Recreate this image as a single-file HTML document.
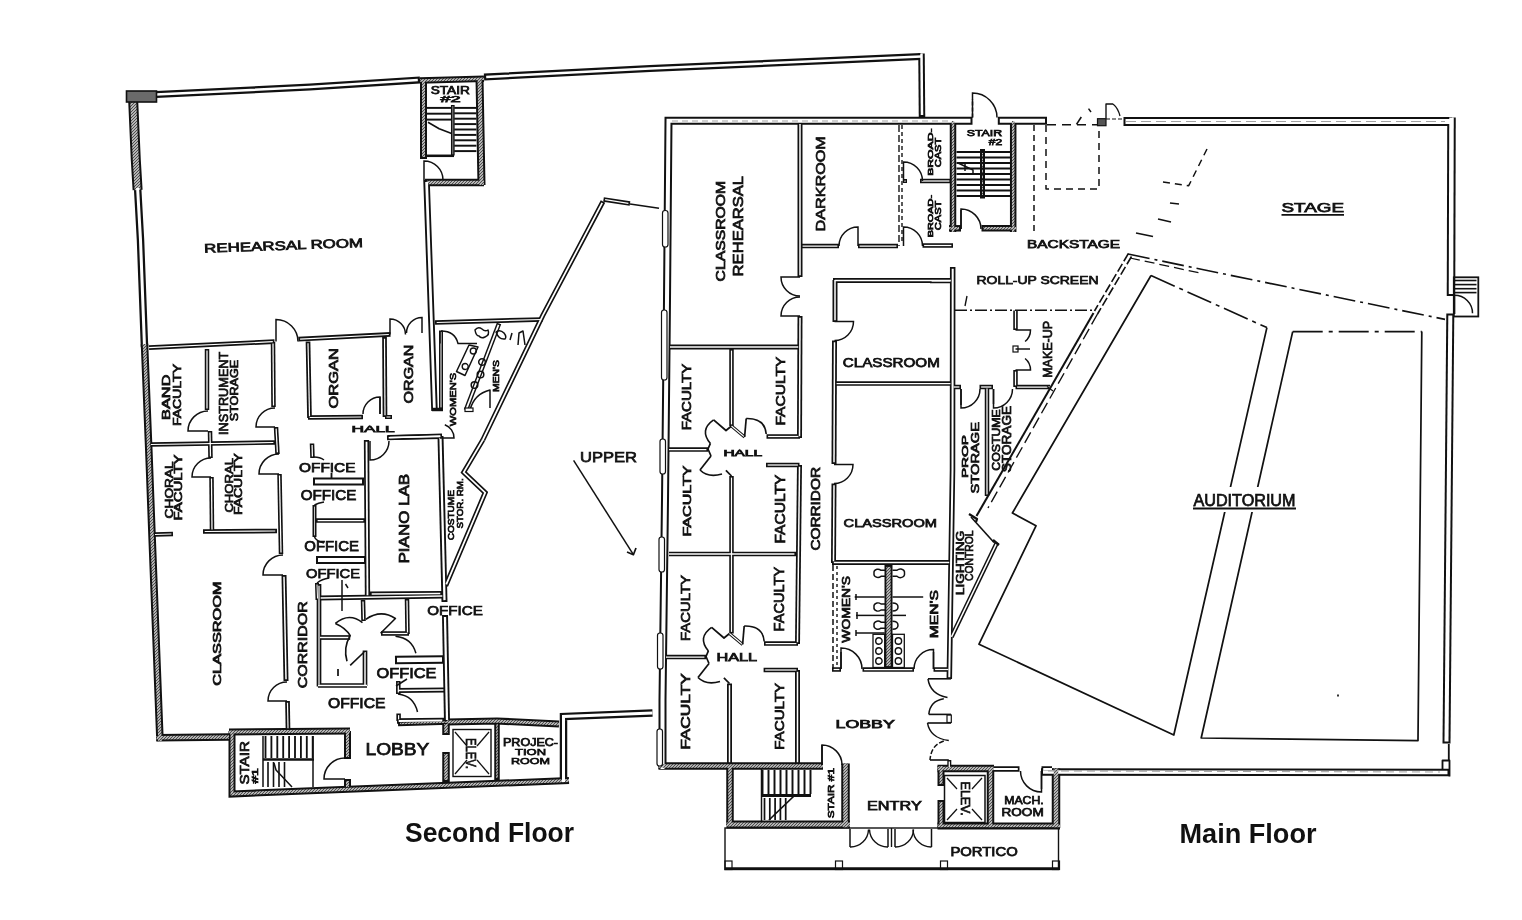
<!DOCTYPE html>
<html><head><meta charset="utf-8"><title>Floor Plans</title>
<style>html,body{margin:0;padding:0;background:#fff;width:1522px;height:920px;overflow:hidden}svg{display:block;filter:grayscale(1)}text{font-family:"Liberation Sans",sans-serif}</style>
</head><body>
<svg width="1522" height="920" viewBox="0 0 1522 920">
<defs>
<pattern id="hatch" width="3" height="3" patternUnits="userSpaceOnUse"><rect width="3" height="3" fill="#b4b4b4"/><path d="M0,3 L3,0" stroke="#333" stroke-width="0.8"/></pattern>

</defs>
<rect width="1522" height="920" fill="#fff"/>

<polyline points="156.0,94.5 310.0,87.0 420.0,80.0" fill="none" stroke="#111" stroke-width="7.0" stroke-linejoin="miter" stroke-miterlimit="10"/>
<polyline points="484.0,77.0 650.0,68.5 921.0,56.5" fill="none" stroke="#111" stroke-width="7.0" stroke-linejoin="miter" stroke-miterlimit="10"/>
<polyline points="921.5,53.5 922.0,117.0" fill="none" stroke="#111" stroke-width="6.5" stroke-linejoin="miter" stroke-miterlimit="10"/>
<polyline points="133.2,101.0 135.8,160.0 137.6,190.0" fill="none" stroke="#111" stroke-width="10.0" stroke-linejoin="miter" stroke-miterlimit="10"/>
<polyline points="137.6,188.0 140.5,240.0 142.0,280.0 144.5,347.0" fill="none" stroke="#111" stroke-width="7.5" stroke-linejoin="miter" stroke-miterlimit="10"/>
<polyline points="144.5,344.0 148.8,450.0 152.2,540.0 160.0,741.0" fill="none" stroke="#111" stroke-width="7.5" stroke-linejoin="miter" stroke-miterlimit="10"/>
<polyline points="156.5,737.8 229.0,737.0" fill="none" stroke="#111" stroke-width="7.5" stroke-linejoin="miter" stroke-miterlimit="10"/>
<polyline points="232.0,731.0 232.0,794.0 380.0,788.0 569.0,780.5" fill="none" stroke="#111" stroke-width="7.0" stroke-linejoin="miter" stroke-miterlimit="10"/>
<polyline points="229.0,732.0 350.0,731.0" fill="none" stroke="#111" stroke-width="7.0" stroke-linejoin="miter" stroke-miterlimit="10"/>
<polyline points="347.5,731.0 347.5,759.0" fill="none" stroke="#111" stroke-width="7.0" stroke-linejoin="miter" stroke-miterlimit="10"/>
<polyline points="347.5,779.0 347.5,789.0" fill="none" stroke="#111" stroke-width="7.0" stroke-linejoin="miter" stroke-miterlimit="10"/>
<polyline points="398.0,723.5 449.0,722.0" fill="none" stroke="#111" stroke-width="5.5" stroke-linejoin="miter" stroke-miterlimit="10"/>
<polyline points="447.0,722.0 497.0,721.0 559.0,724.0" fill="none" stroke="#111" stroke-width="7.0" stroke-linejoin="miter" stroke-miterlimit="10"/>
<polyline points="446.0,722.0 446.0,735.0" fill="none" stroke="#111" stroke-width="7.5" stroke-linejoin="miter" stroke-miterlimit="10"/>
<polyline points="446.0,752.0 446.0,782.0" fill="none" stroke="#111" stroke-width="7.5" stroke-linejoin="miter" stroke-miterlimit="10"/>
<polyline points="497.0,722.0 497.0,780.0" fill="none" stroke="#111" stroke-width="5.5" stroke-linejoin="miter" stroke-miterlimit="10"/>
<polyline points="563.5,782.0 563.5,716.5 652.5,713.0" fill="none" stroke="#111" stroke-width="7.5" stroke-linejoin="miter" stroke-miterlimit="10"/>
<polyline points="420.0,80.5 484.0,78.8" fill="none" stroke="#111" stroke-width="6.5" stroke-linejoin="miter" stroke-miterlimit="10"/>
<polyline points="423.5,80.0 423.5,159.0" fill="none" stroke="#111" stroke-width="7.0" stroke-linejoin="miter" stroke-miterlimit="10"/>
<polyline points="479.5,78.0 481.5,185.0" fill="none" stroke="#111" stroke-width="8.0" stroke-linejoin="miter" stroke-miterlimit="10"/>
<polyline points="425.0,182.5 484.0,182.5" fill="none" stroke="#111" stroke-width="7.5" stroke-linejoin="miter" stroke-miterlimit="10"/>
<polyline points="426.5,180.0 431.5,323.0 434.5,411.0" fill="none" stroke="#111" stroke-width="6.5" stroke-linejoin="miter" stroke-miterlimit="10"/>
<polyline points="149.0,347.6 274.5,341.6" fill="none" stroke="#111" stroke-width="4.7" stroke-linejoin="miter" stroke-miterlimit="10"/>
<polyline points="298.4,339.2 390.5,334.4" fill="none" stroke="#111" stroke-width="4.7" stroke-linejoin="miter" stroke-miterlimit="10"/>
<polyline points="435.0,322.5 542.6,319.5" fill="none" stroke="#111" stroke-width="4.7" stroke-linejoin="miter" stroke-miterlimit="10"/>
<polyline points="207.0,349.0 207.0,410.0" fill="none" stroke="#111" stroke-width="4.5" stroke-linejoin="miter" stroke-miterlimit="10"/>
<polyline points="210.0,431.0 210.5,458.0" fill="none" stroke="#111" stroke-width="4.5" stroke-linejoin="miter" stroke-miterlimit="10"/>
<polyline points="273.0,342.0 273.5,407.0" fill="none" stroke="#111" stroke-width="4.5" stroke-linejoin="miter" stroke-miterlimit="10"/>
<polyline points="276.0,427.0 277.5,454.0" fill="none" stroke="#111" stroke-width="4.5" stroke-linejoin="miter" stroke-miterlimit="10"/>
<polyline points="151.0,444.5 275.0,442.5" fill="none" stroke="#111" stroke-width="4.5" stroke-linejoin="miter" stroke-miterlimit="10"/>
<polyline points="211.5,477.0 212.0,531.0" fill="none" stroke="#111" stroke-width="4.5" stroke-linejoin="miter" stroke-miterlimit="10"/>
<polyline points="155.0,534.5 173.0,534.0" fill="none" stroke="#111" stroke-width="4.5" stroke-linejoin="miter" stroke-miterlimit="10"/>
<polyline points="203.0,531.5 277.0,531.0" fill="none" stroke="#111" stroke-width="4.7" stroke-linejoin="miter" stroke-miterlimit="10"/>
<polyline points="279.5,474.0 281.0,554.0" fill="none" stroke="#111" stroke-width="4.5" stroke-linejoin="miter" stroke-miterlimit="10"/>
<polyline points="284.0,575.0 286.0,681.0" fill="none" stroke="#111" stroke-width="5.0" stroke-linejoin="miter" stroke-miterlimit="10"/>
<polyline points="287.5,701.0 288.0,730.0" fill="none" stroke="#111" stroke-width="4.7" stroke-linejoin="miter" stroke-miterlimit="10"/>
<polyline points="308.0,341.5 309.5,418.0" fill="none" stroke="#111" stroke-width="4.7" stroke-linejoin="miter" stroke-miterlimit="10"/>
<polyline points="308.0,417.5 363.0,417.0" fill="none" stroke="#111" stroke-width="4.5" stroke-linejoin="miter" stroke-miterlimit="10"/>
<polyline points="384.5,337.0 385.0,417.0" fill="none" stroke="#111" stroke-width="4.7" stroke-linejoin="miter" stroke-miterlimit="10"/>
<polyline points="385.0,417.0 392.0,417.0" fill="none" stroke="#111" stroke-width="4.0" stroke-linejoin="miter" stroke-miterlimit="10"/>
<polyline points="312.0,443.5 312.5,458.0" fill="none" stroke="#111" stroke-width="4.5" stroke-linejoin="miter" stroke-miterlimit="10"/>
<polyline points="313.0,481.5 364.0,481.5" fill="none" stroke="#111" stroke-width="8.0" stroke-linejoin="miter" stroke-miterlimit="10"/>
<polyline points="314.5,505.0 314.5,537.0" fill="none" stroke="#111" stroke-width="4.0" stroke-linejoin="miter" stroke-miterlimit="10"/>
<polyline points="316.0,520.5 365.0,520.5" fill="none" stroke="#111" stroke-width="4.5" stroke-linejoin="miter" stroke-miterlimit="10"/>
<polyline points="316.0,560.0 366.0,560.0" fill="none" stroke="#111" stroke-width="8.0" stroke-linejoin="miter" stroke-miterlimit="10"/>
<polyline points="317.0,583.0 317.5,600.0" fill="none" stroke="#111" stroke-width="4.0" stroke-linejoin="miter" stroke-miterlimit="10"/>
<polyline points="366.5,440.0 367.5,597.0" fill="none" stroke="#111" stroke-width="5.3" stroke-linejoin="miter" stroke-miterlimit="10"/>
<polyline points="388.0,437.5 442.0,436.5" fill="none" stroke="#111" stroke-width="5.0" stroke-linejoin="miter" stroke-miterlimit="10"/>
<polyline points="319.0,584.0 319.0,686.5" fill="none" stroke="#111" stroke-width="4.7" stroke-linejoin="miter" stroke-miterlimit="10"/>
<polyline points="319.0,598.0 444.0,596.0" fill="none" stroke="#111" stroke-width="5.0" stroke-linejoin="miter" stroke-miterlimit="10"/>
<polyline points="363.0,600.0 363.5,621.0" fill="none" stroke="#111" stroke-width="4.5" stroke-linejoin="miter" stroke-miterlimit="10"/>
<polyline points="407.0,599.0 407.5,634.0" fill="none" stroke="#111" stroke-width="4.5" stroke-linejoin="miter" stroke-miterlimit="10"/>
<polyline points="381.0,633.5 409.0,633.5" fill="none" stroke="#111" stroke-width="4.5" stroke-linejoin="miter" stroke-miterlimit="10"/>
<polyline points="395.0,660.0 444.0,659.5" fill="none" stroke="#111" stroke-width="8.5" stroke-linejoin="miter" stroke-miterlimit="10"/>
<polyline points="396.5,690.5 445.0,690.0" fill="none" stroke="#111" stroke-width="5.0" stroke-linejoin="miter" stroke-miterlimit="10"/>
<polyline points="398.3,681.0 398.3,694.0" fill="none" stroke="#111" stroke-width="4.5" stroke-linejoin="miter" stroke-miterlimit="10"/>
<polyline points="398.6,713.5 398.6,721.0" fill="none" stroke="#111" stroke-width="4.5" stroke-linejoin="miter" stroke-miterlimit="10"/>
<polyline points="397.0,721.0 444.0,720.5" fill="none" stroke="#111" stroke-width="5.5" stroke-linejoin="miter" stroke-miterlimit="10"/>
<polyline points="320.0,637.5 350.2,637.5" fill="none" stroke="#111" stroke-width="4.7" stroke-linejoin="miter" stroke-miterlimit="10"/>
<polyline points="365.0,650.5 365.0,686.0" fill="none" stroke="#111" stroke-width="4.7" stroke-linejoin="miter" stroke-miterlimit="10"/>
<polyline points="318.0,685.5 367.0,685.5" fill="none" stroke="#111" stroke-width="4.7" stroke-linejoin="miter" stroke-miterlimit="10"/>
<polyline points="370.0,594.0 442.0,593.5" fill="none" stroke="#111" stroke-width="5.0" stroke-linejoin="miter" stroke-miterlimit="10"/>
<polyline points="440.5,436.0 444.5,602.0" fill="none" stroke="#111" stroke-width="6.0" stroke-linejoin="miter" stroke-miterlimit="10"/>
<polyline points="445.0,615.0 447.0,722.0" fill="none" stroke="#111" stroke-width="6.0" stroke-linejoin="miter" stroke-miterlimit="10"/>
<polyline points="482.8,440.0 463.7,472.3 485.2,492.6 445.7,585.8" fill="none" stroke="#111" stroke-width="5.0" stroke-linejoin="miter" stroke-miterlimit="10"/>
<polyline points="603.0,201.5 542.7,315.7 482.8,440.0" fill="none" stroke="#111" stroke-width="5.0" stroke-linejoin="miter" stroke-miterlimit="10"/>
<polyline points="603.5,199.5 630.0,203.5" fill="none" stroke="#111" stroke-width="4.5" stroke-linejoin="miter" stroke-miterlimit="10"/>
<polyline points="441.0,330.5 441.0,409.0" fill="none" stroke="#111" stroke-width="4.0" stroke-linejoin="miter" stroke-miterlimit="10"/>
<polyline points="499.0,323.5 466.0,410.0" fill="none" stroke="#111" stroke-width="4.7" stroke-linejoin="miter" stroke-miterlimit="10"/>
<polyline points="387.0,437.8 442.0,436.0" fill="none" stroke="#111" stroke-width="5.0" stroke-linejoin="miter" stroke-miterlimit="10"/>
<polyline points="662.5,769.0 662.5,700.0 665.0,500.0 667.0,300.0 668.5,120.8 972.5,120.8" fill="none" stroke="#111" stroke-width="8.0" stroke-linejoin="miter" stroke-miterlimit="10"/>
<polyline points="997.8,120.8 1047.0,120.8" fill="none" stroke="#111" stroke-width="8.0" stroke-linejoin="miter" stroke-miterlimit="10"/>
<polyline points="1123.5,121.5 1452.0,121.5" fill="none" stroke="#111" stroke-width="9.0" stroke-linejoin="miter" stroke-miterlimit="10"/>
<polyline points="1451.5,117.5 1451.0,296.0" fill="none" stroke="#111" stroke-width="8.5" stroke-linejoin="miter" stroke-miterlimit="10"/>
<polyline points="1450.3,313.5 1446.5,743.5" fill="none" stroke="#111" stroke-width="8.0" stroke-linejoin="miter" stroke-miterlimit="10"/>
<polyline points="1041.0,772.0 1449.5,772.5" fill="none" stroke="#111" stroke-width="7.5" stroke-linejoin="miter" stroke-miterlimit="10"/>
<polyline points="658.5,766.0 823.0,766.0" fill="none" stroke="#111" stroke-width="7.5" stroke-linejoin="miter" stroke-miterlimit="10"/>
<polyline points="730.0,766.0 730.0,825.0" fill="none" stroke="#111" stroke-width="7.5" stroke-linejoin="miter" stroke-miterlimit="10"/>
<polyline points="726.5,824.5 850.0,824.5" fill="none" stroke="#111" stroke-width="8.0" stroke-linejoin="miter" stroke-miterlimit="10"/>
<polyline points="845.5,763.5 845.5,828.0" fill="none" stroke="#111" stroke-width="8.5" stroke-linejoin="miter" stroke-miterlimit="10"/>
<polyline points="937.5,768.5 994.0,768.5" fill="none" stroke="#111" stroke-width="7.5" stroke-linejoin="miter" stroke-miterlimit="10"/>
<polyline points="941.0,766.0 941.0,786.0" fill="none" stroke="#111" stroke-width="7.0" stroke-linejoin="miter" stroke-miterlimit="10"/>
<polyline points="941.0,800.0 941.0,828.0" fill="none" stroke="#111" stroke-width="7.0" stroke-linejoin="miter" stroke-miterlimit="10"/>
<polyline points="990.5,768.0 990.5,828.0" fill="none" stroke="#111" stroke-width="7.5" stroke-linejoin="miter" stroke-miterlimit="10"/>
<polyline points="937.5,826.0 1060.0,826.0" fill="none" stroke="#111" stroke-width="7.0" stroke-linejoin="miter" stroke-miterlimit="10"/>
<polyline points="1056.0,768.5 1056.0,828.0" fill="none" stroke="#111" stroke-width="8.5" stroke-linejoin="miter" stroke-miterlimit="10"/>
<polyline points="994.0,769.0 1019.5,769.0" fill="none" stroke="#111" stroke-width="5.5" stroke-linejoin="miter" stroke-miterlimit="10"/>
<polyline points="1041.5,769.0 1052.0,769.0" fill="none" stroke="#111" stroke-width="5.5" stroke-linejoin="miter" stroke-miterlimit="10"/>
<polyline points="949.3,760.0 949.3,767.0" fill="none" stroke="#111" stroke-width="4.0" stroke-linejoin="miter" stroke-miterlimit="10"/>
<polyline points="800.0,124.0 800.0,277.0" fill="none" stroke="#111" stroke-width="5.0" stroke-linejoin="miter" stroke-miterlimit="10"/>
<polyline points="800.0,316.0 799.5,438.0" fill="none" stroke="#111" stroke-width="5.0" stroke-linejoin="miter" stroke-miterlimit="10"/>
<polyline points="670.0,347.0 800.0,347.0" fill="none" stroke="#111" stroke-width="5.0" stroke-linejoin="miter" stroke-miterlimit="10"/>
<polyline points="801.0,246.0 839.0,246.0" fill="none" stroke="#111" stroke-width="4.5" stroke-linejoin="miter" stroke-miterlimit="10"/>
<polyline points="858.0,246.0 898.0,246.0" fill="none" stroke="#111" stroke-width="4.5" stroke-linejoin="miter" stroke-miterlimit="10"/>
<polyline points="922.5,245.5 953.0,245.5" fill="none" stroke="#111" stroke-width="4.5" stroke-linejoin="miter" stroke-miterlimit="10"/>
<polyline points="920.0,181.0 951.0,181.0" fill="none" stroke="#111" stroke-width="4.5" stroke-linejoin="miter" stroke-miterlimit="10"/>
<polyline points="903.0,181.0 907.0,181.0" fill="none" stroke="#111" stroke-width="4.0" stroke-linejoin="miter" stroke-miterlimit="10"/>
<polyline points="953.0,121.0 953.0,232.0" fill="none" stroke="#111" stroke-width="6.5" stroke-linejoin="miter" stroke-miterlimit="10"/>
<polyline points="1013.2,121.0 1013.2,232.0" fill="none" stroke="#111" stroke-width="6.5" stroke-linejoin="miter" stroke-miterlimit="10"/>
<polyline points="949.0,228.3 961.0,228.3" fill="none" stroke="#111" stroke-width="6.5" stroke-linejoin="miter" stroke-miterlimit="10"/>
<polyline points="981.5,228.3 1016.0,228.3" fill="none" stroke="#111" stroke-width="6.5" stroke-linejoin="miter" stroke-miterlimit="10"/>
<polyline points="982.5,149.0 982.5,198.5" fill="none" stroke="#111" stroke-width="5.0" stroke-linejoin="miter" stroke-miterlimit="10"/>
<polyline points="833.0,280.5 952.5,280.5" fill="none" stroke="#111" stroke-width="5.0" stroke-linejoin="miter" stroke-miterlimit="10"/>
<polyline points="835.0,280.0 835.0,322.0" fill="none" stroke="#111" stroke-width="5.0" stroke-linejoin="miter" stroke-miterlimit="10"/>
<polyline points="834.5,340.5 834.0,464.0" fill="none" stroke="#111" stroke-width="5.0" stroke-linejoin="miter" stroke-miterlimit="10"/>
<polyline points="834.0,483.5 833.5,563.0" fill="none" stroke="#111" stroke-width="5.0" stroke-linejoin="miter" stroke-miterlimit="10"/>
<polyline points="835.0,383.5 952.0,383.5" fill="none" stroke="#111" stroke-width="4.5" stroke-linejoin="miter" stroke-miterlimit="10"/>
<polyline points="832.0,562.5 951.0,562.5" fill="none" stroke="#111" stroke-width="5.0" stroke-linejoin="miter" stroke-miterlimit="10"/>
<polyline points="952.7,267.0 952.5,470.0 949.3,679.0" fill="none" stroke="#111" stroke-width="5.5" stroke-linejoin="miter" stroke-miterlimit="10"/>
<polyline points="930.0,281.0 952.0,281.0" fill="none" stroke="#111" stroke-width="4.5" stroke-linejoin="miter" stroke-miterlimit="10"/>
<polyline points="832.0,669.5 841.0,669.5" fill="none" stroke="#111" stroke-width="4.5" stroke-linejoin="miter" stroke-miterlimit="10"/>
<polyline points="862.5,669.5 914.0,669.5" fill="none" stroke="#111" stroke-width="4.5" stroke-linejoin="miter" stroke-miterlimit="10"/>
<polyline points="933.5,669.5 950.0,669.5" fill="none" stroke="#111" stroke-width="4.5" stroke-linejoin="miter" stroke-miterlimit="10"/>
<polyline points="888.5,565.0 888.5,668.0" fill="none" stroke="#111" stroke-width="8.0" stroke-linejoin="miter" stroke-miterlimit="10"/>
<polyline points="731.5,349.0 731.5,426.0" fill="none" stroke="#111" stroke-width="4.5" stroke-linejoin="miter" stroke-miterlimit="10"/>
<polyline points="766.5,436.5 800.0,436.5" fill="none" stroke="#111" stroke-width="4.5" stroke-linejoin="miter" stroke-miterlimit="10"/>
<polyline points="669.0,449.6 708.0,449.6" fill="none" stroke="#111" stroke-width="4.5" stroke-linejoin="miter" stroke-miterlimit="10"/>
<polyline points="766.0,465.0 799.5,465.0" fill="none" stroke="#111" stroke-width="4.5" stroke-linejoin="miter" stroke-miterlimit="10"/>
<polyline points="731.5,476.0 731.5,633.5" fill="none" stroke="#111" stroke-width="4.5" stroke-linejoin="miter" stroke-miterlimit="10"/>
<polyline points="799.5,465.0 797.5,644.0" fill="none" stroke="#111" stroke-width="5.0" stroke-linejoin="miter" stroke-miterlimit="10"/>
<polyline points="669.0,554.0 796.0,554.0" fill="none" stroke="#111" stroke-width="4.7" stroke-linejoin="miter" stroke-miterlimit="10"/>
<polyline points="764.0,643.6 798.0,643.6" fill="none" stroke="#111" stroke-width="4.5" stroke-linejoin="miter" stroke-miterlimit="10"/>
<polyline points="666.0,657.0 706.0,657.0" fill="none" stroke="#111" stroke-width="4.5" stroke-linejoin="miter" stroke-miterlimit="10"/>
<polyline points="763.6,670.0 798.0,670.0" fill="none" stroke="#111" stroke-width="4.5" stroke-linejoin="miter" stroke-miterlimit="10"/>
<polyline points="729.5,683.5 729.5,764.0" fill="none" stroke="#111" stroke-width="5.0" stroke-linejoin="miter" stroke-miterlimit="10"/>
<polyline points="797.5,670.0 797.5,764.0" fill="none" stroke="#111" stroke-width="5.0" stroke-linejoin="miter" stroke-miterlimit="10"/>
<polyline points="1015.5,310.5 1015.5,330.0" fill="none" stroke="#111" stroke-width="4.5" stroke-linejoin="miter" stroke-miterlimit="10"/>
<polyline points="1015.5,370.0 1015.5,387.0" fill="none" stroke="#111" stroke-width="4.5" stroke-linejoin="miter" stroke-miterlimit="10"/>
<polyline points="1015.5,387.0 1050.0,387.0" fill="none" stroke="#111" stroke-width="4.5" stroke-linejoin="miter" stroke-miterlimit="10"/>
<polyline points="952.0,387.0 961.0,387.0" fill="none" stroke="#111" stroke-width="4.5" stroke-linejoin="miter" stroke-miterlimit="10"/>
<polyline points="979.5,387.0 993.0,387.0" fill="none" stroke="#111" stroke-width="4.5" stroke-linejoin="miter" stroke-miterlimit="10"/>
<polyline points="987.0,387.0 987.0,496.0" fill="none" stroke="#111" stroke-width="4.5" stroke-linejoin="miter" stroke-miterlimit="10"/>
<polyline points="997.0,542.5 951.5,636.9" fill="none" stroke="#111" stroke-width="4.5" stroke-linejoin="miter" stroke-miterlimit="10"/>
<polyline points="156.0,94.5 310.0,87.0 417.8,80.1" fill="none" stroke="#fff" stroke-width="2.5" stroke-linejoin="miter" stroke-miterlimit="10"/>
<polyline points="486.2,76.9 650.0,68.5 921.0,56.5" fill="none" stroke="#fff" stroke-width="2.5" stroke-linejoin="miter" stroke-miterlimit="10"/>
<polyline points="921.5,53.5 922.0,115.0" fill="none" stroke="#fff" stroke-width="2.5" stroke-linejoin="miter" stroke-miterlimit="10"/>
<polyline points="133.2,101.0 135.8,160.0 137.6,190.0" fill="none" stroke="url(#hatch)" stroke-width="6.0" stroke-linejoin="miter" stroke-miterlimit="10"/>
<polyline points="137.6,188.0 140.5,240.0 142.0,280.0 144.5,347.0" fill="none" stroke="#fff" stroke-width="3.0" stroke-linejoin="miter" stroke-miterlimit="10"/>
<polyline points="144.5,344.0 148.8,450.0 152.2,540.0 160.0,741.0" fill="none" stroke="url(#hatch)" stroke-width="3.5" stroke-linejoin="miter" stroke-miterlimit="10"/>
<polyline points="156.5,737.8 229.0,737.0" fill="none" stroke="url(#hatch)" stroke-width="3.5" stroke-linejoin="miter" stroke-miterlimit="10"/>
<polyline points="232.0,731.0 232.0,794.0 380.0,788.0 569.0,780.5" fill="none" stroke="url(#hatch)" stroke-width="3.0" stroke-linejoin="miter" stroke-miterlimit="10"/>
<polyline points="229.0,732.0 350.0,731.0" fill="none" stroke="url(#hatch)" stroke-width="3.0" stroke-linejoin="miter" stroke-miterlimit="10"/>
<polyline points="347.5,731.0 347.5,757.0" fill="none" stroke="url(#hatch)" stroke-width="3.0" stroke-linejoin="miter" stroke-miterlimit="10"/>
<polyline points="347.5,781.0 347.5,787.0" fill="none" stroke="url(#hatch)" stroke-width="3.0" stroke-linejoin="miter" stroke-miterlimit="10"/>
<polyline points="400.0,723.4 449.0,722.0" fill="none" stroke="url(#hatch)" stroke-width="1.5" stroke-linejoin="miter" stroke-miterlimit="10"/>
<polyline points="447.0,722.0 497.0,721.0 559.0,724.0" fill="none" stroke="url(#hatch)" stroke-width="3.0" stroke-linejoin="miter" stroke-miterlimit="10"/>
<polyline points="446.0,724.0 446.0,733.0" fill="none" stroke="url(#hatch)" stroke-width="3.5" stroke-linejoin="miter" stroke-miterlimit="10"/>
<polyline points="446.0,754.0 446.0,780.0" fill="none" stroke="url(#hatch)" stroke-width="3.5" stroke-linejoin="miter" stroke-miterlimit="10"/>
<polyline points="497.0,724.0 497.0,778.0" fill="none" stroke="url(#hatch)" stroke-width="1.5" stroke-linejoin="miter" stroke-miterlimit="10"/>
<polyline points="563.5,782.0 563.5,716.5 652.5,713.0" fill="none" stroke="#fff" stroke-width="3.0" stroke-linejoin="miter" stroke-miterlimit="10"/>
<polyline points="420.0,80.5 484.0,78.8" fill="none" stroke="url(#hatch)" stroke-width="2.5" stroke-linejoin="miter" stroke-miterlimit="10"/>
<polyline points="423.5,80.0 423.5,157.0" fill="none" stroke="url(#hatch)" stroke-width="3.0" stroke-linejoin="miter" stroke-miterlimit="10"/>
<polyline points="479.5,78.0 481.5,185.0" fill="none" stroke="url(#hatch)" stroke-width="4.0" stroke-linejoin="miter" stroke-miterlimit="10"/>
<polyline points="427.0,182.5 484.0,182.5" fill="none" stroke="url(#hatch)" stroke-width="3.5" stroke-linejoin="miter" stroke-miterlimit="10"/>
<polyline points="426.6,181.9 431.5,323.0 434.4,409.1" fill="none" stroke="#fff" stroke-width="2.75" stroke-linejoin="miter" stroke-miterlimit="10"/>
<polyline points="149.0,347.6 272.8,341.7" fill="none" stroke="#fff" stroke-width="1.2000000000000002" stroke-linejoin="miter" stroke-miterlimit="10"/>
<polyline points="300.1,339.1 388.8,334.5" fill="none" stroke="#fff" stroke-width="1.2000000000000002" stroke-linejoin="miter" stroke-miterlimit="10"/>
<polyline points="436.7,322.5 540.9,319.5" fill="none" stroke="#fff" stroke-width="1.2000000000000002" stroke-linejoin="miter" stroke-miterlimit="10"/>
<polyline points="207.0,350.6 207.0,408.4" fill="none" stroke="#fff" stroke-width="1.25" stroke-linejoin="miter" stroke-miterlimit="10"/>
<polyline points="210.0,432.6 210.5,456.4" fill="none" stroke="#fff" stroke-width="1.25" stroke-linejoin="miter" stroke-miterlimit="10"/>
<polyline points="273.0,343.6 273.5,405.4" fill="none" stroke="#fff" stroke-width="1.25" stroke-linejoin="miter" stroke-miterlimit="10"/>
<polyline points="276.1,428.6 277.4,452.4" fill="none" stroke="#fff" stroke-width="1.25" stroke-linejoin="miter" stroke-miterlimit="10"/>
<polyline points="151.0,444.5 273.4,442.5" fill="none" stroke="#fff" stroke-width="1.25" stroke-linejoin="miter" stroke-miterlimit="10"/>
<polyline points="211.5,478.6 212.0,529.4" fill="none" stroke="#fff" stroke-width="1.25" stroke-linejoin="miter" stroke-miterlimit="10"/>
<polyline points="155.0,534.5 171.4,534.0" fill="none" stroke="#fff" stroke-width="1.25" stroke-linejoin="miter" stroke-miterlimit="10"/>
<polyline points="204.7,531.5 275.3,531.0" fill="none" stroke="#fff" stroke-width="1.2000000000000002" stroke-linejoin="miter" stroke-miterlimit="10"/>
<polyline points="279.5,475.6 281.0,552.4" fill="none" stroke="#fff" stroke-width="1.25" stroke-linejoin="miter" stroke-miterlimit="10"/>
<polyline points="284.0,576.7 286.0,679.3" fill="none" stroke="#fff" stroke-width="1.5" stroke-linejoin="miter" stroke-miterlimit="10"/>
<polyline points="287.5,702.7 288.0,728.3" fill="none" stroke="#fff" stroke-width="1.2000000000000002" stroke-linejoin="miter" stroke-miterlimit="10"/>
<polyline points="308.0,343.2 309.5,416.3" fill="none" stroke="#fff" stroke-width="1.2000000000000002" stroke-linejoin="miter" stroke-miterlimit="10"/>
<polyline points="309.6,417.5 361.4,417.0" fill="none" stroke="#fff" stroke-width="1.25" stroke-linejoin="miter" stroke-miterlimit="10"/>
<polyline points="384.5,338.7 385.0,415.3" fill="none" stroke="#fff" stroke-width="1.2000000000000002" stroke-linejoin="miter" stroke-miterlimit="10"/>
<polyline points="386.5,417.0 390.5,417.0" fill="none" stroke="#fff" stroke-width="1.0" stroke-linejoin="miter" stroke-miterlimit="10"/>
<polyline points="312.1,445.1 312.4,456.4" fill="none" stroke="#fff" stroke-width="1.25" stroke-linejoin="miter" stroke-miterlimit="10"/>
<polyline points="315.0,481.5 362.0,481.5" fill="none" stroke="#fff" stroke-width="4.0" stroke-linejoin="miter" stroke-miterlimit="10"/>
<polyline points="314.5,506.6 314.5,535.4" fill="none" stroke="#fff" stroke-width="0.75" stroke-linejoin="miter" stroke-miterlimit="10"/>
<polyline points="317.6,520.5 363.4,520.5" fill="none" stroke="#fff" stroke-width="1.25" stroke-linejoin="miter" stroke-miterlimit="10"/>
<polyline points="318.0,560.0 364.0,560.0" fill="none" stroke="#fff" stroke-width="4.0" stroke-linejoin="miter" stroke-miterlimit="10"/>
<polyline points="317.0,584.5 317.5,598.5" fill="none" stroke="#fff" stroke-width="1.0" stroke-linejoin="miter" stroke-miterlimit="10"/>
<polyline points="366.5,441.7 367.5,595.3" fill="none" stroke="#fff" stroke-width="1.7999999999999998" stroke-linejoin="miter" stroke-miterlimit="10"/>
<polyline points="389.7,437.5 440.3,436.5" fill="none" stroke="#fff" stroke-width="1.5" stroke-linejoin="miter" stroke-miterlimit="10"/>
<polyline points="319.0,585.8 319.0,684.8" fill="none" stroke="#fff" stroke-width="1.2000000000000002" stroke-linejoin="miter" stroke-miterlimit="10"/>
<polyline points="320.7,598.0 442.3,596.0" fill="none" stroke="#fff" stroke-width="1.5" stroke-linejoin="miter" stroke-miterlimit="10"/>
<polyline points="363.0,601.6 363.5,619.4" fill="none" stroke="#fff" stroke-width="1.25" stroke-linejoin="miter" stroke-miterlimit="10"/>
<polyline points="407.0,600.6 407.5,632.4" fill="none" stroke="#fff" stroke-width="1.25" stroke-linejoin="miter" stroke-miterlimit="10"/>
<polyline points="382.6,633.5 407.4,633.5" fill="none" stroke="#fff" stroke-width="1.25" stroke-linejoin="miter" stroke-miterlimit="10"/>
<polyline points="397.0,660.0 442.0,659.5" fill="none" stroke="#fff" stroke-width="4.5" stroke-linejoin="miter" stroke-miterlimit="10"/>
<polyline points="398.1,690.5 443.4,690.0" fill="none" stroke="#fff" stroke-width="1.75" stroke-linejoin="miter" stroke-miterlimit="10"/>
<polyline points="398.3,682.6 398.3,692.4" fill="none" stroke="#fff" stroke-width="1.25" stroke-linejoin="miter" stroke-miterlimit="10"/>
<polyline points="398.6,715.1 398.6,719.4" fill="none" stroke="#fff" stroke-width="1.25" stroke-linejoin="miter" stroke-miterlimit="10"/>
<polyline points="398.7,721.0 442.3,720.5" fill="none" stroke="#fff" stroke-width="2.0" stroke-linejoin="miter" stroke-miterlimit="10"/>
<polyline points="320.0,637.5 348.6,637.5" fill="none" stroke="#fff" stroke-width="1.4500000000000002" stroke-linejoin="miter" stroke-miterlimit="10"/>
<polyline points="365.0,652.1 365.0,686.0" fill="none" stroke="#fff" stroke-width="1.4500000000000002" stroke-linejoin="miter" stroke-miterlimit="10"/>
<polyline points="318.0,685.5 367.0,685.5" fill="none" stroke="#fff" stroke-width="1.4500000000000002" stroke-linejoin="miter" stroke-miterlimit="10"/>
<polyline points="371.7,594.0 440.3,593.5" fill="none" stroke="#fff" stroke-width="1.5" stroke-linejoin="miter" stroke-miterlimit="10"/>
<polyline points="440.5,437.9 444.5,600.1" fill="none" stroke="#fff" stroke-width="2.25" stroke-linejoin="miter" stroke-miterlimit="10"/>
<polyline points="445.0,616.9 447.0,720.1" fill="none" stroke="#fff" stroke-width="2.25" stroke-linejoin="miter" stroke-miterlimit="10"/>
<polyline points="482.8,440.0 463.7,472.3 485.2,492.6 446.3,584.3" fill="none" stroke="#fff" stroke-width="1.75" stroke-linejoin="miter" stroke-miterlimit="10"/>
<polyline points="602.2,202.9 542.7,315.7 482.8,440.0" fill="none" stroke="#fff" stroke-width="1.75" stroke-linejoin="miter" stroke-miterlimit="10"/>
<polyline points="605.1,199.7 628.4,203.3" fill="none" stroke="#fff" stroke-width="1.25" stroke-linejoin="miter" stroke-miterlimit="10"/>
<polyline points="441.0,332.0 441.0,407.5" fill="none" stroke="#fff" stroke-width="1.0" stroke-linejoin="miter" stroke-miterlimit="10"/>
<polyline points="498.5,324.9 466.5,408.6" fill="none" stroke="#fff" stroke-width="1.7000000000000002" stroke-linejoin="miter" stroke-miterlimit="10"/>
<polyline points="388.7,437.7 440.3,436.1" fill="none" stroke="#fff" stroke-width="1.5" stroke-linejoin="miter" stroke-miterlimit="10"/>
<polyline points="662.5,769.0 662.5,700.0 665.0,500.0 667.0,300.0 668.5,120.8 970.5,120.8" fill="none" stroke="#fff" stroke-width="4.0" stroke-linejoin="miter" stroke-miterlimit="10"/>
<polyline points="999.8,120.8 1045.0,120.8" fill="none" stroke="#fff" stroke-width="4.0" stroke-linejoin="miter" stroke-miterlimit="10"/>
<polyline points="1125.5,121.5 1452.0,121.5" fill="none" stroke="#fff" stroke-width="5.0" stroke-linejoin="miter" stroke-miterlimit="10"/>
<polyline points="1451.5,117.5 1451.0,294.0" fill="none" stroke="#fff" stroke-width="4.5" stroke-linejoin="miter" stroke-miterlimit="10"/>
<polyline points="1450.3,315.5 1446.5,741.5" fill="none" stroke="#fff" stroke-width="4.0" stroke-linejoin="miter" stroke-miterlimit="10"/>
<polyline points="1043.0,772.0 1447.5,772.5" fill="none" stroke="#fff" stroke-width="3.5" stroke-linejoin="miter" stroke-miterlimit="10"/>
<polyline points="658.5,766.0 823.0,766.0" fill="none" stroke="url(#hatch)" stroke-width="3.5" stroke-linejoin="miter" stroke-miterlimit="10"/>
<polyline points="730.0,766.0 730.0,825.0" fill="none" stroke="url(#hatch)" stroke-width="3.5" stroke-linejoin="miter" stroke-miterlimit="10"/>
<polyline points="726.5,824.5 850.0,824.5" fill="none" stroke="url(#hatch)" stroke-width="4.0" stroke-linejoin="miter" stroke-miterlimit="10"/>
<polyline points="845.5,763.5 845.5,828.0" fill="none" stroke="url(#hatch)" stroke-width="4.5" stroke-linejoin="miter" stroke-miterlimit="10"/>
<polyline points="937.5,768.5 994.0,768.5" fill="none" stroke="url(#hatch)" stroke-width="3.5" stroke-linejoin="miter" stroke-miterlimit="10"/>
<polyline points="941.0,766.0 941.0,784.0" fill="none" stroke="url(#hatch)" stroke-width="3.0" stroke-linejoin="miter" stroke-miterlimit="10"/>
<polyline points="941.0,802.0 941.0,828.0" fill="none" stroke="url(#hatch)" stroke-width="3.0" stroke-linejoin="miter" stroke-miterlimit="10"/>
<polyline points="990.5,768.0 990.5,828.0" fill="none" stroke="url(#hatch)" stroke-width="3.5" stroke-linejoin="miter" stroke-miterlimit="10"/>
<polyline points="937.5,826.0 1060.0,826.0" fill="none" stroke="url(#hatch)" stroke-width="3.0" stroke-linejoin="miter" stroke-miterlimit="10"/>
<polyline points="1056.0,768.5 1056.0,828.0" fill="none" stroke="url(#hatch)" stroke-width="4.5" stroke-linejoin="miter" stroke-miterlimit="10"/>
<polyline points="994.0,769.0 1017.8,769.0" fill="none" stroke="#fff" stroke-width="2.0" stroke-linejoin="miter" stroke-miterlimit="10"/>
<polyline points="1043.2,769.0 1052.0,769.0" fill="none" stroke="#fff" stroke-width="2.0" stroke-linejoin="miter" stroke-miterlimit="10"/>
<polyline points="949.3,761.4 949.3,767.0" fill="none" stroke="#fff" stroke-width="1.25" stroke-linejoin="miter" stroke-miterlimit="10"/>
<polyline points="800.0,124.0 800.0,275.2" fill="none" stroke="#fff" stroke-width="1.5" stroke-linejoin="miter" stroke-miterlimit="10"/>
<polyline points="800.0,317.7 799.5,436.3" fill="none" stroke="#fff" stroke-width="1.5" stroke-linejoin="miter" stroke-miterlimit="10"/>
<polyline points="670.0,347.0 798.2,347.0" fill="none" stroke="#fff" stroke-width="1.5" stroke-linejoin="miter" stroke-miterlimit="10"/>
<polyline points="802.6,246.0 837.4,246.0" fill="none" stroke="#fff" stroke-width="1.25" stroke-linejoin="miter" stroke-miterlimit="10"/>
<polyline points="859.6,246.0 896.4,246.0" fill="none" stroke="#fff" stroke-width="1.25" stroke-linejoin="miter" stroke-miterlimit="10"/>
<polyline points="924.1,245.5 951.4,245.5" fill="none" stroke="#fff" stroke-width="1.25" stroke-linejoin="miter" stroke-miterlimit="10"/>
<polyline points="921.6,181.0 949.4,181.0" fill="none" stroke="#fff" stroke-width="1.25" stroke-linejoin="miter" stroke-miterlimit="10"/>
<polyline points="904.4,181.0 905.6,181.0" fill="none" stroke="#fff" stroke-width="1.25" stroke-linejoin="miter" stroke-miterlimit="10"/>
<polyline points="953.0,121.0 953.0,232.0" fill="none" stroke="url(#hatch)" stroke-width="2.5" stroke-linejoin="miter" stroke-miterlimit="10"/>
<polyline points="1013.2,121.0 1013.2,232.0" fill="none" stroke="url(#hatch)" stroke-width="2.5" stroke-linejoin="miter" stroke-miterlimit="10"/>
<polyline points="949.0,228.3 959.0,228.3" fill="none" stroke="url(#hatch)" stroke-width="2.5" stroke-linejoin="miter" stroke-miterlimit="10"/>
<polyline points="983.5,228.3 1016.0,228.3" fill="none" stroke="url(#hatch)" stroke-width="2.5" stroke-linejoin="miter" stroke-miterlimit="10"/>
<polyline points="982.5,151.0 982.5,196.5" fill="none" stroke="url(#hatch)" stroke-width="1.0" stroke-linejoin="miter" stroke-miterlimit="10"/>
<polyline points="834.8,280.5 950.8,280.5" fill="none" stroke="#fff" stroke-width="1.5" stroke-linejoin="miter" stroke-miterlimit="10"/>
<polyline points="835.0,280.0 835.0,320.2" fill="none" stroke="#fff" stroke-width="1.5" stroke-linejoin="miter" stroke-miterlimit="10"/>
<polyline points="834.5,342.2 834.0,462.3" fill="none" stroke="#fff" stroke-width="1.5" stroke-linejoin="miter" stroke-miterlimit="10"/>
<polyline points="834.0,485.2 833.5,561.3" fill="none" stroke="#fff" stroke-width="1.5" stroke-linejoin="miter" stroke-miterlimit="10"/>
<polyline points="836.6,383.5 950.4,383.5" fill="none" stroke="#fff" stroke-width="1.25" stroke-linejoin="miter" stroke-miterlimit="10"/>
<polyline points="833.8,562.5 949.2,562.5" fill="none" stroke="#fff" stroke-width="1.5" stroke-linejoin="miter" stroke-miterlimit="10"/>
<polyline points="952.7,268.7 952.5,470.0 949.3,677.3" fill="none" stroke="#fff" stroke-width="2.0" stroke-linejoin="miter" stroke-miterlimit="10"/>
<polyline points="931.6,281.0 950.4,281.0" fill="none" stroke="#fff" stroke-width="1.25" stroke-linejoin="miter" stroke-miterlimit="10"/>
<polyline points="833.6,669.5 839.4,669.5" fill="none" stroke="#fff" stroke-width="1.25" stroke-linejoin="miter" stroke-miterlimit="10"/>
<polyline points="864.1,669.5 912.4,669.5" fill="none" stroke="#fff" stroke-width="1.25" stroke-linejoin="miter" stroke-miterlimit="10"/>
<polyline points="935.1,669.5 948.4,669.5" fill="none" stroke="#fff" stroke-width="1.25" stroke-linejoin="miter" stroke-miterlimit="10"/>
<polyline points="888.5,566.9 888.5,666.1" fill="none" stroke="url(#hatch)" stroke-width="4.25" stroke-linejoin="miter" stroke-miterlimit="10"/>
<polyline points="731.5,350.6 731.5,424.4" fill="none" stroke="#fff" stroke-width="1.25" stroke-linejoin="miter" stroke-miterlimit="10"/>
<polyline points="768.1,436.5 798.4,436.5" fill="none" stroke="#fff" stroke-width="1.25" stroke-linejoin="miter" stroke-miterlimit="10"/>
<polyline points="669.0,449.6 706.4,449.6" fill="none" stroke="#fff" stroke-width="1.25" stroke-linejoin="miter" stroke-miterlimit="10"/>
<polyline points="767.6,465.0 797.9,465.0" fill="none" stroke="#fff" stroke-width="1.25" stroke-linejoin="miter" stroke-miterlimit="10"/>
<polyline points="731.5,477.6 731.5,631.9" fill="none" stroke="#fff" stroke-width="1.25" stroke-linejoin="miter" stroke-miterlimit="10"/>
<polyline points="799.5,466.7 797.5,642.3" fill="none" stroke="#fff" stroke-width="1.5" stroke-linejoin="miter" stroke-miterlimit="10"/>
<polyline points="669.0,554.0 794.4,554.0" fill="none" stroke="#fff" stroke-width="1.4500000000000002" stroke-linejoin="miter" stroke-miterlimit="10"/>
<polyline points="765.6,643.6 796.4,643.6" fill="none" stroke="#fff" stroke-width="1.25" stroke-linejoin="miter" stroke-miterlimit="10"/>
<polyline points="666.0,657.0 704.4,657.0" fill="none" stroke="#fff" stroke-width="1.25" stroke-linejoin="miter" stroke-miterlimit="10"/>
<polyline points="765.2,670.0 796.4,670.0" fill="none" stroke="#fff" stroke-width="1.25" stroke-linejoin="miter" stroke-miterlimit="10"/>
<polyline points="729.5,685.2 729.5,762.2" fill="none" stroke="#fff" stroke-width="1.5" stroke-linejoin="miter" stroke-miterlimit="10"/>
<polyline points="797.5,671.8 797.5,762.2" fill="none" stroke="#fff" stroke-width="1.5" stroke-linejoin="miter" stroke-miterlimit="10"/>
<polyline points="1015.5,310.5 1015.5,328.4" fill="none" stroke="#fff" stroke-width="1.25" stroke-linejoin="miter" stroke-miterlimit="10"/>
<polyline points="1015.5,371.6 1015.5,385.4" fill="none" stroke="#fff" stroke-width="1.25" stroke-linejoin="miter" stroke-miterlimit="10"/>
<polyline points="1017.1,387.0 1050.0,387.0" fill="none" stroke="#fff" stroke-width="1.25" stroke-linejoin="miter" stroke-miterlimit="10"/>
<polyline points="953.6,387.0 959.4,387.0" fill="none" stroke="#fff" stroke-width="1.25" stroke-linejoin="miter" stroke-miterlimit="10"/>
<polyline points="981.1,387.0 991.4,387.0" fill="none" stroke="#fff" stroke-width="1.25" stroke-linejoin="miter" stroke-miterlimit="10"/>
<polyline points="987.0,388.6 987.0,494.4" fill="none" stroke="#fff" stroke-width="1.25" stroke-linejoin="miter" stroke-miterlimit="10"/>
<polyline points="996.3,543.9 951.5,636.9" fill="none" stroke="#fff" stroke-width="1.5" stroke-linejoin="miter" stroke-miterlimit="10"/>
<rect x="126.5" y="91" width="30.0" height="11" fill="#6a6a6a" stroke="#111" stroke-width="1.6"/>
<path d="M345.0,779.0 L324.0,779.0 A21,21 0 0 1 345.0,758.0" fill="none" stroke="#111" stroke-width="1.4949999999999999"/>
<polyline points="265.5,736.0 265.5,758.0" fill="none" stroke="#111" stroke-width="1.8399999999999999" stroke-linecap="butt" stroke-linejoin="round"/>
<polyline points="271.4,736.0 271.4,758.0" fill="none" stroke="#111" stroke-width="1.8399999999999999" stroke-linecap="butt" stroke-linejoin="round"/>
<polyline points="277.3,736.0 277.3,758.0" fill="none" stroke="#111" stroke-width="1.8399999999999999" stroke-linecap="butt" stroke-linejoin="round"/>
<polyline points="283.2,736.0 283.2,758.0" fill="none" stroke="#111" stroke-width="1.8399999999999999" stroke-linecap="butt" stroke-linejoin="round"/>
<polyline points="289.1,736.0 289.1,758.0" fill="none" stroke="#111" stroke-width="1.8399999999999999" stroke-linecap="butt" stroke-linejoin="round"/>
<polyline points="295.0,736.0 295.0,758.0" fill="none" stroke="#111" stroke-width="1.8399999999999999" stroke-linecap="butt" stroke-linejoin="round"/>
<polyline points="300.9,736.0 300.9,758.0" fill="none" stroke="#111" stroke-width="1.8399999999999999" stroke-linecap="butt" stroke-linejoin="round"/>
<polyline points="306.8,736.0 306.8,758.0" fill="none" stroke="#111" stroke-width="1.8399999999999999" stroke-linecap="butt" stroke-linejoin="round"/>
<polyline points="312.7,736.0 312.7,758.0" fill="none" stroke="#111" stroke-width="1.8399999999999999" stroke-linecap="butt" stroke-linejoin="round"/>
<polyline points="263.0,759.5 314.0,759.5" fill="none" stroke="#111" stroke-width="2.53" stroke-linecap="butt" stroke-linejoin="round"/>
<polyline points="263.0,736.0 263.0,787.0" fill="none" stroke="#111" stroke-width="1.4949999999999999" stroke-linecap="butt" stroke-linejoin="round"/>
<polyline points="313.0,736.0 313.0,787.0" fill="none" stroke="#111" stroke-width="1.4949999999999999" stroke-linecap="butt" stroke-linejoin="round"/>
<polyline points="268.0,762.0 268.0,787.0" fill="none" stroke="#111" stroke-width="1.6099999999999999" stroke-linecap="butt" stroke-linejoin="round"/>
<polyline points="273.5,762.0 273.5,787.0" fill="none" stroke="#111" stroke-width="1.6099999999999999" stroke-linecap="butt" stroke-linejoin="round"/>
<polyline points="279.0,762.0 279.0,787.0" fill="none" stroke="#111" stroke-width="1.6099999999999999" stroke-linecap="butt" stroke-linejoin="round"/>
<polyline points="284.5,762.0 284.5,787.0" fill="none" stroke="#111" stroke-width="1.6099999999999999" stroke-linecap="butt" stroke-linejoin="round"/>
<polyline points="274.0,763.0 276.0,770.0 292.0,787.0" fill="none" stroke="#111" stroke-width="1.4949999999999999" stroke-linecap="butt" stroke-linejoin="round"/>
<text x="223.2" y="767.2" font-family="Liberation Sans" font-weight="normal" font-size="12.5" textLength="43.5" lengthAdjust="spacingAndGlyphs" fill="#111" stroke="#111" stroke-width="0.75" transform="rotate(-90 245.0 762.8)">STAIR</text>
<text x="247.2" y="778.8" font-family="Liberation Sans" font-weight="normal" font-size="8.3" textLength="15.5" lengthAdjust="spacingAndGlyphs" fill="#111" stroke="#111" stroke-width="0.75" transform="rotate(-90 255.0 775.8)">#1</text>
<rect x="453" y="729.5" width="38" height="47.0" fill="none" stroke="#111" stroke-width="1.4"/>
<polyline points="455.0,732.0 467.0,746.0" fill="none" stroke="#111" stroke-width="1.265" stroke-linecap="butt" stroke-linejoin="round"/>
<polyline points="489.0,732.0 477.0,746.0" fill="none" stroke="#111" stroke-width="1.265" stroke-linecap="butt" stroke-linejoin="round"/>
<polyline points="455.0,774.0 467.0,760.0" fill="none" stroke="#111" stroke-width="1.265" stroke-linecap="butt" stroke-linejoin="round"/>
<polyline points="489.0,774.0 477.0,760.0" fill="none" stroke="#111" stroke-width="1.265" stroke-linecap="butt" stroke-linejoin="round"/>
<text x="456.0" y="759.0" font-family="Liberation Sans" font-weight="normal" font-size="15.3" textLength="31.0" lengthAdjust="spacingAndGlyphs" fill="#111" stroke="#111" stroke-width="0.75" transform="rotate(90 471.5 753.5)">ELEV.</text>
<text x="503.0" y="745.5" font-family="Liberation Sans" font-weight="normal" font-size="10.4" textLength="55.0" lengthAdjust="spacingAndGlyphs" fill="#111" stroke="#111" stroke-width="0.75">PROJEC-</text>
<text x="515.0" y="755.0" font-family="Liberation Sans" font-weight="normal" font-size="9.7" textLength="31.0" lengthAdjust="spacingAndGlyphs" fill="#111" stroke="#111" stroke-width="0.75">TION</text>
<text x="511.0" y="764.0" font-family="Liberation Sans" font-weight="normal" font-size="9.7" textLength="39.0" lengthAdjust="spacingAndGlyphs" fill="#111" stroke="#111" stroke-width="0.75">ROOM</text>
<text x="365.5" y="755.0" font-family="Liberation Sans" font-weight="normal" font-size="16.4" textLength="63.8" lengthAdjust="spacingAndGlyphs" fill="#111" stroke="#111" stroke-width="0.75">LOBBY</text>
<path d="M424.0,180.0 L424.0,161.0 A19,19 0 0 1 443.0,180.0" fill="none" stroke="#111" stroke-width="1.4949999999999999"/>
<polyline points="454.2,107.9 476.4,107.9" fill="none" stroke="#111" stroke-width="1.9549999999999998" stroke-linecap="butt" stroke-linejoin="round"/>
<polyline points="454.2,113.3 476.4,113.3" fill="none" stroke="#111" stroke-width="1.9549999999999998" stroke-linecap="butt" stroke-linejoin="round"/>
<polyline points="454.2,118.7 476.4,118.7" fill="none" stroke="#111" stroke-width="1.9549999999999998" stroke-linecap="butt" stroke-linejoin="round"/>
<polyline points="454.2,124.1 476.4,124.1" fill="none" stroke="#111" stroke-width="1.9549999999999998" stroke-linecap="butt" stroke-linejoin="round"/>
<polyline points="454.2,129.5 476.4,129.5" fill="none" stroke="#111" stroke-width="1.9549999999999998" stroke-linecap="butt" stroke-linejoin="round"/>
<polyline points="454.2,134.9 476.4,134.9" fill="none" stroke="#111" stroke-width="1.9549999999999998" stroke-linecap="butt" stroke-linejoin="round"/>
<polyline points="454.2,140.3 476.4,140.3" fill="none" stroke="#111" stroke-width="1.9549999999999998" stroke-linecap="butt" stroke-linejoin="round"/>
<polyline points="454.2,145.7 476.4,145.7" fill="none" stroke="#111" stroke-width="1.9549999999999998" stroke-linecap="butt" stroke-linejoin="round"/>
<polyline points="454.2,151.1 476.4,151.1" fill="none" stroke="#111" stroke-width="1.9549999999999998" stroke-linecap="butt" stroke-linejoin="round"/>
<polyline points="426.7,107.9 452.2,107.9" fill="none" stroke="#111" stroke-width="1.9549999999999998" stroke-linecap="butt" stroke-linejoin="round"/>
<polyline points="426.7,113.7 452.2,113.7" fill="none" stroke="#111" stroke-width="1.9549999999999998" stroke-linecap="butt" stroke-linejoin="round"/>
<polyline points="426.7,119.6 452.2,119.6" fill="none" stroke="#111" stroke-width="1.9549999999999998" stroke-linecap="butt" stroke-linejoin="round"/>
<polyline points="428.0,122.2 439.2,128.7 452.9,134.0" fill="none" stroke="#111" stroke-width="1.6099999999999999" stroke-linecap="butt" stroke-linejoin="round"/>
<polyline points="452.8,105.0 452.8,155.5" fill="none" stroke="#111" stroke-width="3.6799999999999997" stroke-linecap="butt" stroke-linejoin="round"/>
<polyline points="452.8,106.0 452.8,154.5" fill="none" stroke="#999" stroke-width="0.9199999999999999" stroke-linecap="butt" stroke-linejoin="round"/>
<polyline points="426.7,155.8 454.0,155.8" fill="none" stroke="#111" stroke-width="2.53" stroke-linecap="butt" stroke-linejoin="round"/>
<text x="430.7" y="93.5" font-family="Liberation Sans" font-weight="normal" font-size="10.8" textLength="39.1" lengthAdjust="spacingAndGlyphs" fill="#111" stroke="#111" stroke-width="0.75">STAIR</text>
<text x="440.5" y="102.0" font-family="Liberation Sans" font-weight="normal" font-size="9.0" textLength="20.2" lengthAdjust="spacingAndGlyphs" fill="#111" stroke="#111" stroke-width="0.75">#2</text>
<text x="204.1" y="249.8" font-family="Liberation Sans" font-weight="normal" font-size="12.5" textLength="159.0" lengthAdjust="spacingAndGlyphs" fill="#111" stroke="#111" stroke-width="0.75" transform="rotate(-2.1 283.6 245.3)">REHEARSAL ROOM</text>
<path d="M276.0,341.5 L276.0,319.5 A22,22 0 0 1 298.0,341.5" fill="none" stroke="#111" stroke-width="1.4949999999999999"/>
<path d="M390.0,334.5 L390.0,319.0 A15.5,15.5 0 0 1 405.5,334.5" fill="none" stroke="#111" stroke-width="1.4949999999999999"/>
<path d="M422.0,333.0 L422.0,317.5 A15.5,15.5 0 0 0 406.5,333.0" fill="none" stroke="#111" stroke-width="1.4949999999999999"/>
<path d="M208.0,431.0 L188.0,431.0 A20,20 0 0 1 208.0,411.0" fill="none" stroke="#111" stroke-width="1.4949999999999999"/>
<path d="M275.0,427.0 L256.0,427.0 A19,19 0 0 1 275.0,408.0" fill="none" stroke="#111" stroke-width="1.4949999999999999"/>
<path d="M211.0,477.0 L192.0,477.0 A19,19 0 0 1 211.0,458.0" fill="none" stroke="#111" stroke-width="1.4949999999999999"/>
<path d="M279.0,474.0 L259.0,474.0 A20,20 0 0 1 279.0,454.0" fill="none" stroke="#111" stroke-width="1.4949999999999999"/>
<path d="M283.0,575.0 L263.0,575.0 A20,20 0 0 1 283.0,555.0" fill="none" stroke="#111" stroke-width="1.4949999999999999"/>
<path d="M287.0,701.0 L268.0,701.0 A19,19 0 0 1 287.0,682.0" fill="none" stroke="#111" stroke-width="1.4949999999999999"/>
<path d="M380.0,414.0 L380.0,397.0 A17,17 0 0 0 363.0,414.0" fill="none" stroke="#111" stroke-width="1.4949999999999999"/>
<polyline points="380.0,414.0 380.0,397.0" fill="none" stroke="#111" stroke-width="1.4949999999999999" stroke-linecap="butt" stroke-linejoin="round"/>
<text x="303.4" y="382.9" font-family="Liberation Sans" font-weight="normal" font-size="12.6" textLength="60.5" lengthAdjust="spacingAndGlyphs" fill="#111" stroke="#111" stroke-width="0.75" transform="rotate(-90 333.6 378.4)">ORGAN</text>
<text x="378.8" y="379.0" font-family="Liberation Sans" font-weight="normal" font-size="13.5" textLength="58.8" lengthAdjust="spacingAndGlyphs" fill="#111" stroke="#111" stroke-width="0.75" transform="rotate(-90 408.1 374.1)">ORGAN</text>
<text x="351.4" y="432.0" font-family="Liberation Sans" font-weight="normal" font-size="9.4" textLength="43.3" lengthAdjust="spacingAndGlyphs" fill="#111" stroke="#111" stroke-width="0.75">HALL</text>
<text x="142.9" y="401.2" font-family="Liberation Sans" font-weight="normal" font-size="11.1" textLength="45.5" lengthAdjust="spacingAndGlyphs" fill="#111" stroke="#111" stroke-width="0.75" transform="rotate(-90 165.7 397.2)">BAND</text>
<text x="146.0" y="399.0" font-family="Liberation Sans" font-weight="normal" font-size="11.1" textLength="62.0" lengthAdjust="spacingAndGlyphs" fill="#111" stroke="#111" stroke-width="0.75" transform="rotate(-90 177.0 395.0)">FACULTY</text>
<text x="181.8" y="398.0" font-family="Liberation Sans" font-weight="normal" font-size="12.8" textLength="83.3" lengthAdjust="spacingAndGlyphs" fill="#111" stroke="#111" stroke-width="0.75" transform="rotate(-90 223.4 393.4)">INSTRUMENT</text>
<text x="203.4" y="394.5" font-family="Liberation Sans" font-weight="normal" font-size="11.1" textLength="61.6" lengthAdjust="spacingAndGlyphs" fill="#111" stroke="#111" stroke-width="0.75" transform="rotate(-90 234.2 390.5)">STORAGE</text>
<text x="140.8" y="494.1" font-family="Liberation Sans" font-weight="normal" font-size="11.8" textLength="57.1" lengthAdjust="spacingAndGlyphs" fill="#111" stroke="#111" stroke-width="0.75" transform="rotate(-90 169.3 489.9)">CHORAL</text>
<text x="145.2" y="491.4" font-family="Liberation Sans" font-weight="normal" font-size="10.8" textLength="66.2" lengthAdjust="spacingAndGlyphs" fill="#111" stroke="#111" stroke-width="0.75" transform="rotate(-90 178.3 487.5)">FACULTY</text>
<text x="201.4" y="489.5" font-family="Liberation Sans" font-weight="normal" font-size="11.8" textLength="54.7" lengthAdjust="spacingAndGlyphs" fill="#111" stroke="#111" stroke-width="0.75" transform="rotate(-90 228.8 485.2)">CHORAL</text>
<text x="206.8" y="488.0" font-family="Liberation Sans" font-weight="normal" font-size="10.8" textLength="61.7" lengthAdjust="spacingAndGlyphs" fill="#111" stroke="#111" stroke-width="0.75" transform="rotate(-90 237.7 484.1)">FACULTY</text>
<text x="165.5" y="637.4" font-family="Liberation Sans" font-weight="normal" font-size="10.3" textLength="104.3" lengthAdjust="spacingAndGlyphs" fill="#111" stroke="#111" stroke-width="0.75" transform="rotate(-90 217.6 633.6)">CLASSROOM</text>
<text x="259.1" y="649.6" font-family="Liberation Sans" font-weight="normal" font-size="13.6" textLength="87.1" lengthAdjust="spacingAndGlyphs" fill="#111" stroke="#111" stroke-width="0.75" transform="rotate(-90 302.6 644.8)">CORRIDOR</text>
<path d="M314,457 Q320,457 324,460" fill="none" stroke="#111" stroke-width="1.4949999999999999" stroke-linejoin="round"/>
<polyline points="331.5,473.0 331.5,478.0" fill="none" stroke="#111" stroke-width="1.8399999999999999" stroke-linecap="butt" stroke-linejoin="round"/>
<path d="M314.5,505 Q318,503 324,502" fill="none" stroke="#111" stroke-width="1.4949999999999999" stroke-linejoin="round"/>
<path d="M314.5,537 Q316,541 324,543" fill="none" stroke="#111" stroke-width="1.4949999999999999" stroke-linejoin="round"/>
<path d="M317,583 Q322,579 329,578" fill="none" stroke="#111" stroke-width="1.4949999999999999" stroke-linejoin="round"/>
<path d="M370.0,441.0 L370.0,460.0 A19,19 0 0 0 389.0,441.0" fill="none" stroke="#111" stroke-width="1.4949999999999999"/>
<path d="M395.5,636.2 Q412,638 415.9,653.3" fill="none" stroke="#111" stroke-width="1.4949999999999999" stroke-linejoin="round"/>
<path d="M398,694 Q414,696 417.5,712" fill="none" stroke="#111" stroke-width="1.4949999999999999" stroke-linejoin="round"/>
<polyline points="396.0,686.0 407.0,679.0" fill="none" stroke="#111" stroke-width="1.4949999999999999" stroke-linecap="butt" stroke-linejoin="round"/>
<path d="M335.4,623.4 Q349,612 362.5,622.6" fill="none" stroke="#111" stroke-width="1.6099999999999999" stroke-linejoin="round"/>
<path d="M365.8,619.3 Q381,609 395.4,618.5 L380.6,633.2" fill="none" stroke="#111" stroke-width="1.6099999999999999" stroke-linejoin="round"/>
<path d="M335.4,623.4 Q346,628 350.2,635.7 Q343,648 347,661.2" fill="none" stroke="#111" stroke-width="1.6099999999999999" stroke-linejoin="round"/>
<polyline points="350.2,665.3 364.2,652.0" fill="none" stroke="#111" stroke-width="1.6099999999999999" stroke-linecap="butt" stroke-linejoin="round"/>
<polyline points="338.0,669.0 338.0,676.0" fill="none" stroke="#111" stroke-width="1.7249999999999999" stroke-linecap="butt" stroke-linejoin="round"/>
<polyline points="342.0,580.0 342.0,611.0" fill="none" stroke="#111" stroke-width="1.4949999999999999" stroke-linecap="butt" stroke-linejoin="round"/>
<polyline points="345.5,584.0 348.0,588.0" fill="none" stroke="#111" stroke-width="1.4949999999999999" stroke-linecap="butt" stroke-linejoin="round"/>
<text x="299.0" y="472.0" font-family="Liberation Sans" font-weight="normal" font-size="12.5" textLength="56.5" lengthAdjust="spacingAndGlyphs" fill="#111" stroke="#111" stroke-width="0.75">OFFICE</text>
<text x="300.8" y="500.0" font-family="Liberation Sans" font-weight="normal" font-size="13.9" textLength="55.6" lengthAdjust="spacingAndGlyphs" fill="#111" stroke="#111" stroke-width="0.75">OFFICE</text>
<text x="304.3" y="551.0" font-family="Liberation Sans" font-weight="normal" font-size="13.9" textLength="54.7" lengthAdjust="spacingAndGlyphs" fill="#111" stroke="#111" stroke-width="0.75">OFFICE</text>
<text x="306.1" y="577.9" font-family="Liberation Sans" font-weight="normal" font-size="13.7" textLength="53.9" lengthAdjust="spacingAndGlyphs" fill="#111" stroke="#111" stroke-width="0.75">OFFICE</text>
<text x="427.2" y="614.6" font-family="Liberation Sans" font-weight="normal" font-size="13.6" textLength="55.6" lengthAdjust="spacingAndGlyphs" fill="#111" stroke="#111" stroke-width="0.75">OFFICE</text>
<text x="376.5" y="677.6" font-family="Liberation Sans" font-weight="normal" font-size="14.7" textLength="60.0" lengthAdjust="spacingAndGlyphs" fill="#111" stroke="#111" stroke-width="0.75">OFFICE</text>
<text x="328.0" y="708.0" font-family="Liberation Sans" font-weight="normal" font-size="13.9" textLength="57.5" lengthAdjust="spacingAndGlyphs" fill="#111" stroke="#111" stroke-width="0.75">OFFICE</text>
<text x="359.5" y="523.6" font-family="Liberation Sans" font-weight="normal" font-size="13.8" textLength="89.7" lengthAdjust="spacingAndGlyphs" fill="#111" stroke="#111" stroke-width="0.75" transform="rotate(-90 404.4 518.6)">PIANO LAB</text>
<text x="425.4" y="518.7" font-family="Liberation Sans" font-weight="normal" font-size="9.9" textLength="50.2" lengthAdjust="spacingAndGlyphs" fill="#111" stroke="#111" stroke-width="0.75" transform="rotate(-90 450.6 515.1)">COSTUME</text>
<text x="434.4" y="506.9" font-family="Liberation Sans" font-weight="normal" font-size="9.7" textLength="50.2" lengthAdjust="spacingAndGlyphs" fill="#111" stroke="#111" stroke-width="0.75" transform="rotate(-90 459.5 503.4)">STOR. RM.</text>
<polyline points="630.0,204.0 659.0,208.3" fill="none" stroke="#111" stroke-width="1.6099999999999999" stroke-linecap="butt" stroke-linejoin="round"/>
<path d="M440,331 L440,343.5" fill="none" stroke="#111" stroke-width="1.4949999999999999" stroke-linejoin="round"/>
<path d="M441,331 Q455,331 458,343.5 L477,343.5" fill="none" stroke="#111" stroke-width="1.4949999999999999" stroke-linejoin="round"/>
<path d="M469,345 L456.5,371.5 L465,375.5 L478,347 Z" fill="none" stroke="#111" stroke-width="1.4949999999999999" stroke-linejoin="round"/>
<path d="M470.3,351 a3,3 0 1,0 6,0 a3,3 0 1,0 -6,0" fill="none" stroke="#111" stroke-width="1.38" stroke-linejoin="round"/>
<path d="M462.2,366.5 a3,3 0 1,0 6,0 a3,3 0 1,0 -6,0" fill="none" stroke="#111" stroke-width="1.38" stroke-linejoin="round"/>
<path d="M478.7,362 a3.3,3.3 0 1,0 6.6,0 a3.3,3.3 0 1,0 -6.6,0" fill="none" stroke="#111" stroke-width="1.4949999999999999" stroke-linejoin="round"/>
<path d="M477.2,374.5 a3.3,3.3 0 1,0 6.6,0 a3.3,3.3 0 1,0 -6.6,0" fill="none" stroke="#111" stroke-width="1.4949999999999999" stroke-linejoin="round"/>
<path d="M471.2,385 a3.3,3.3 0 1,0 6.6,0 a3.3,3.3 0 1,0 -6.6,0" fill="none" stroke="#111" stroke-width="1.4949999999999999" stroke-linejoin="round"/>
<path d="M475,330 q3,-4 7,-1 q3,3 6,1 q2,5 -3,7 q-4,2 -6,-1 q-3,0 -4,-6 Z" fill="none" stroke="#111" stroke-width="1.4949999999999999" stroke-linejoin="round"/>
<path d="M496,332 q4,-3 8,1 q3,4 1,6 q-6,1 -9,-7 Z" fill="none" stroke="#111" stroke-width="1.4949999999999999" stroke-linejoin="round"/>
<polyline points="510.0,340.0 512.0,333.0" fill="none" stroke="#111" stroke-width="1.4949999999999999" stroke-linecap="butt" stroke-linejoin="round"/>
<path d="M518,345 L519,333 L523,331 L525,345" fill="none" stroke="#111" stroke-width="1.4949999999999999" stroke-linejoin="round"/>
<path d="M470,410 Q474,394 490,390 L490,408" fill="none" stroke="#111" stroke-width="1.4949999999999999" stroke-linejoin="round"/>
<rect x="465" y="408" width="8" height="3.5" fill="#fff" stroke="#111" stroke-width="1.2"/>
<polyline points="432.0,409.5 443.0,409.5" fill="none" stroke="#111" stroke-width="3.4499999999999997" stroke-linecap="butt" stroke-linejoin="round"/>
<text x="425.6" y="403.0" font-family="Liberation Sans" font-weight="normal" font-size="9.6" textLength="53.6" lengthAdjust="spacingAndGlyphs" fill="#111" stroke="#111" stroke-width="0.75" transform="rotate(-90 452.4 399.5)">WOMEN'S</text>
<text x="480.2" y="379.2" font-family="Liberation Sans" font-weight="normal" font-size="9.0" textLength="32.0" lengthAdjust="spacingAndGlyphs" fill="#111" stroke="#111" stroke-width="0.75" transform="rotate(-90 496.2 376.0)">MEN'S</text>
<path d="M440.0,438.0 L454.0,438.0 A14,14 0 0 0 444.8,424.8" fill="none" stroke="#111" stroke-width="1.4949999999999999"/>
<text x="580.0" y="461.5" font-family="Liberation Sans" font-weight="normal" font-size="14.6" textLength="57.0" lengthAdjust="spacingAndGlyphs" fill="#111" stroke="#111" stroke-width="0.75">UPPER</text>
<polyline points="573.6,460.3 633.4,554.7" fill="none" stroke="#111" stroke-width="1.4949999999999999" stroke-linecap="butt" stroke-linejoin="round"/>
<polyline points="627.0,552.0 633.4,554.7 636.0,548.0" fill="none" stroke="#111" stroke-width="1.7249999999999999" stroke-linecap="butt" stroke-linejoin="round"/>
<text x="405.0" y="842.0" font-family="Liberation Sans" font-weight="bold" font-size="28.5" textLength="169.0" lengthAdjust="spacingAndGlyphs" fill="#111">Second Floor</text>
<polyline points="672.0,121.0 950.0,121.0" fill="none" stroke="#777" stroke-width="0.69" stroke-linecap="butt" stroke-linejoin="round" stroke-dasharray="6,4"/>
<rect x="1097.5" y="118.7" width="8.5" height="7.0" fill="#555" stroke="#111" stroke-width="1.2"/>
<polyline points="1047.0,124.8 1097.0,124.8" fill="none" stroke="#111" stroke-width="1.4949999999999999" stroke-linecap="butt" stroke-linejoin="round" stroke-dasharray="9,6"/>
<polyline points="1106.0,118.5 1106.0,104.0 1113.0,104.0" fill="none" stroke="#111" stroke-width="1.38" stroke-linecap="butt" stroke-linejoin="round"/>
<path d="M1113,104 Q1118,108 1120,116" fill="none" stroke="#111" stroke-width="1.265" stroke-linejoin="round"/>
<polyline points="1126.0,121.5 1445.0,121.5" fill="none" stroke="#777" stroke-width="0.69" stroke-linecap="butt" stroke-linejoin="round" stroke-dasharray="10,5"/>
<polyline points="1448.8,744.0 1448.8,760.5" fill="none" stroke="#111" stroke-width="1.8399999999999999" stroke-linecap="butt" stroke-linejoin="round"/>
<polyline points="1442.5,769.0 1442.5,760.5 1449.5,760.5 1449.5,776.5" fill="none" stroke="#111" stroke-width="1.8399999999999999" stroke-linecap="butt" stroke-linejoin="round"/>
<rect x="1453.8" y="277.3" width="24.5" height="39.19999999999999" fill="none" stroke="#111" stroke-width="1.8"/>
<polyline points="1455.0,280.5 1476.5,280.5" fill="none" stroke="#111" stroke-width="1.6099999999999999" stroke-linecap="butt" stroke-linejoin="round"/>
<polyline points="1455.0,284.6 1476.5,284.6" fill="none" stroke="#111" stroke-width="1.6099999999999999" stroke-linecap="butt" stroke-linejoin="round"/>
<polyline points="1455.0,288.7 1476.5,288.7" fill="none" stroke="#111" stroke-width="1.6099999999999999" stroke-linecap="butt" stroke-linejoin="round"/>
<polyline points="1455.0,292.6 1476.5,292.6" fill="none" stroke="#111" stroke-width="1.6099999999999999" stroke-linecap="butt" stroke-linejoin="round"/>
<polyline points="1454.5,295.0 1454.5,314.0" fill="none" stroke="#111" stroke-width="1.7249999999999999" stroke-linecap="butt" stroke-linejoin="round"/>
<path d="M1454.5,295.3 A18,18 0 0 1 1472.5,313.3" fill="none" stroke="#111" stroke-width="1.4949999999999999"/>
<polyline points="1048.0,771.0 1440.0,772.0" fill="none" stroke="#777" stroke-width="0.69" stroke-linecap="butt" stroke-linejoin="round" stroke-dasharray="8,5"/>
<rect x="662.5" y="210.5" width="5.5" height="36.5" rx="2.5" fill="#fff" stroke="#111" stroke-width="1.2"/>
<rect x="661.5" y="310" width="5.5" height="70" rx="2.5" fill="#fff" stroke="#111" stroke-width="1.2"/>
<rect x="660" y="439" width="5.5" height="35" rx="2.5" fill="#fff" stroke="#111" stroke-width="1.2"/>
<rect x="659" y="537" width="5.5" height="35" rx="2.5" fill="#fff" stroke="#111" stroke-width="1.2"/>
<rect x="657.5" y="633" width="5.5" height="36" rx="2.5" fill="#fff" stroke="#111" stroke-width="1.2"/>
<rect x="657" y="729" width="5.5" height="37" rx="2.5" fill="#fff" stroke="#111" stroke-width="1.2"/>
<path d="M822.0,765.0 L822.0,745.0 A20,20 0 0 1 842.0,765.0" fill="none" stroke="#111" stroke-width="1.4949999999999999"/>
<polyline points="822.0,765.0 822.0,745.0" fill="none" stroke="#111" stroke-width="1.6099999999999999" stroke-linecap="butt" stroke-linejoin="round"/>
<polyline points="762.5,770.0 762.5,794.0" fill="none" stroke="#111" stroke-width="1.9549999999999998" stroke-linecap="butt" stroke-linejoin="round"/>
<polyline points="768.5,770.0 768.5,794.0" fill="none" stroke="#111" stroke-width="1.9549999999999998" stroke-linecap="butt" stroke-linejoin="round"/>
<polyline points="774.5,770.0 774.5,794.0" fill="none" stroke="#111" stroke-width="1.9549999999999998" stroke-linecap="butt" stroke-linejoin="round"/>
<polyline points="780.5,770.0 780.5,794.0" fill="none" stroke="#111" stroke-width="1.9549999999999998" stroke-linecap="butt" stroke-linejoin="round"/>
<polyline points="786.5,770.0 786.5,794.0" fill="none" stroke="#111" stroke-width="1.9549999999999998" stroke-linecap="butt" stroke-linejoin="round"/>
<polyline points="792.5,770.0 792.5,794.0" fill="none" stroke="#111" stroke-width="1.9549999999999998" stroke-linecap="butt" stroke-linejoin="round"/>
<polyline points="798.5,770.0 798.5,794.0" fill="none" stroke="#111" stroke-width="1.9549999999999998" stroke-linecap="butt" stroke-linejoin="round"/>
<polyline points="804.5,770.0 804.5,794.0" fill="none" stroke="#111" stroke-width="1.9549999999999998" stroke-linecap="butt" stroke-linejoin="round"/>
<polyline points="810.5,770.0 810.5,794.0" fill="none" stroke="#111" stroke-width="1.9549999999999998" stroke-linecap="butt" stroke-linejoin="round"/>
<polyline points="761.5,795.5 811.0,795.5" fill="none" stroke="#111" stroke-width="2.9899999999999998" stroke-linecap="butt" stroke-linejoin="round"/>
<polyline points="761.5,768.0 761.5,822.0" fill="none" stroke="#111" stroke-width="1.4949999999999999" stroke-linecap="butt" stroke-linejoin="round"/>
<polyline points="764.5,798.0 764.5,820.0" fill="none" stroke="#111" stroke-width="1.7249999999999999" stroke-linecap="butt" stroke-linejoin="round"/>
<polyline points="769.8,798.0 769.8,820.0" fill="none" stroke="#111" stroke-width="1.7249999999999999" stroke-linecap="butt" stroke-linejoin="round"/>
<polyline points="775.1,798.0 775.1,820.0" fill="none" stroke="#111" stroke-width="1.7249999999999999" stroke-linecap="butt" stroke-linejoin="round"/>
<polyline points="780.4,798.0 780.4,820.0" fill="none" stroke="#111" stroke-width="1.7249999999999999" stroke-linecap="butt" stroke-linejoin="round"/>
<polyline points="785.7,798.0 785.7,820.0" fill="none" stroke="#111" stroke-width="1.7249999999999999" stroke-linecap="butt" stroke-linejoin="round"/>
<polyline points="769.0,820.0 794.0,796.0" fill="none" stroke="#111" stroke-width="1.7249999999999999" stroke-linecap="butt" stroke-linejoin="round"/>
<text x="805.1" y="796.8" font-family="Liberation Sans" font-weight="normal" font-size="9.9" textLength="50.3" lengthAdjust="spacingAndGlyphs" fill="#111" stroke="#111" stroke-width="0.75" transform="rotate(-90 830.2 793.2)">STAIR #1</text>
<rect x="944.5" y="775.5" width="40.5" height="47.0" fill="none" stroke="#111" stroke-width="1.5"/>
<polyline points="947.0,778.0 957.0,789.0" fill="none" stroke="#111" stroke-width="1.265" stroke-linecap="butt" stroke-linejoin="round"/>
<polyline points="982.0,778.0 972.0,789.0" fill="none" stroke="#111" stroke-width="1.265" stroke-linecap="butt" stroke-linejoin="round"/>
<polyline points="947.0,820.0 957.0,809.0" fill="none" stroke="#111" stroke-width="1.265" stroke-linecap="butt" stroke-linejoin="round"/>
<polyline points="982.0,820.0 972.0,809.0" fill="none" stroke="#111" stroke-width="1.265" stroke-linecap="butt" stroke-linejoin="round"/>
<text x="948.6" y="803.1" font-family="Liberation Sans" font-weight="normal" font-size="12.4" textLength="34.1" lengthAdjust="spacingAndGlyphs" fill="#111" stroke="#111" stroke-width="0.75" transform="rotate(90 965.7 798.7)">ELEV.</text>
<path d="M1041.5,771.0 L1041.5,792.0 A21,21 0 0 1 1020.5,771.0" fill="none" stroke="#111" stroke-width="1.4949999999999999"/>
<polyline points="1041.5,771.0 1041.5,789.0" fill="none" stroke="#111" stroke-width="1.4949999999999999" stroke-linecap="butt" stroke-linejoin="round"/>
<text x="1004.2" y="804.0" font-family="Liberation Sans" font-weight="normal" font-size="11.1" textLength="39.5" lengthAdjust="spacingAndGlyphs" fill="#111" stroke="#111" stroke-width="0.75">MACH.</text>
<text x="1001.5" y="815.7" font-family="Liberation Sans" font-weight="normal" font-size="11.3" textLength="42.2" lengthAdjust="spacingAndGlyphs" fill="#111" stroke="#111" stroke-width="0.75">ROOM</text>
<rect x="725" y="828" width="333.5" height="41.5" fill="none" stroke="#111" stroke-width="1.4"/>
<polyline points="725.0,868.5 1058.5,868.5" fill="none" stroke="#111" stroke-width="2.53" stroke-linecap="butt" stroke-linejoin="round"/>
<rect x="725" y="861" width="7" height="8.5" fill="none" stroke="#111" stroke-width="1.2"/>
<rect x="835.5" y="861" width="7.0" height="8.5" fill="none" stroke="#111" stroke-width="1.2"/>
<rect x="940.5" y="861" width="7.0" height="8.5" fill="none" stroke="#111" stroke-width="1.2"/>
<rect x="1052.5" y="861" width="7.0" height="8.5" fill="none" stroke="#111" stroke-width="1.2"/>
<text x="950.4" y="856.0" font-family="Liberation Sans" font-weight="normal" font-size="12.5" textLength="67.3" lengthAdjust="spacingAndGlyphs" fill="#111" stroke="#111" stroke-width="0.75">PORTICO</text>
<polyline points="850.0,829.0 850.0,847.0" fill="none" stroke="#111" stroke-width="1.4949999999999999" stroke-linecap="butt" stroke-linejoin="round"/>
<path d="M850,847 A18,18 0 0 0 868.5,829.5" fill="none" stroke="#111" stroke-width="1.38" stroke-linejoin="round"/>
<polyline points="888.0,829.0 888.0,847.0" fill="none" stroke="#111" stroke-width="1.4949999999999999" stroke-linecap="butt" stroke-linejoin="round"/>
<path d="M888,847 A18,18 0 0 1 869.5,829.5" fill="none" stroke="#111" stroke-width="1.38" stroke-linejoin="round"/>
<polyline points="895.0,829.0 895.0,847.0" fill="none" stroke="#111" stroke-width="1.4949999999999999" stroke-linecap="butt" stroke-linejoin="round"/>
<path d="M895,847 A18,18 0 0 0 913.5,829.5" fill="none" stroke="#111" stroke-width="1.38" stroke-linejoin="round"/>
<polyline points="931.5,829.0 931.5,847.0" fill="none" stroke="#111" stroke-width="1.4949999999999999" stroke-linecap="butt" stroke-linejoin="round"/>
<path d="M931.5,847 A18,18 0 0 1 913.0,829.5" fill="none" stroke="#111" stroke-width="1.38" stroke-linejoin="round"/>
<polyline points="891.5,828.0 891.5,847.0" fill="none" stroke="#111" stroke-width="1.38" stroke-linecap="butt" stroke-linejoin="round"/>
<text x="867.0" y="810.3" font-family="Liberation Sans" font-weight="normal" font-size="12.5" textLength="54.7" lengthAdjust="spacingAndGlyphs" fill="#111" stroke="#111" stroke-width="0.75">ENTRY</text>
<polyline points="928.0,678.8 951.0,678.8" fill="none" stroke="#111" stroke-width="1.6099999999999999" stroke-linecap="butt" stroke-linejoin="round"/>
<path d="M928,678.8 Q930,694 947.5,697.5" fill="none" stroke="#111" stroke-width="1.4949999999999999" stroke-linejoin="round"/>
<path d="M943.8,698.8 Q930,701 928.8,714.4" fill="none" stroke="#111" stroke-width="1.4949999999999999" stroke-linejoin="round"/>
<polyline points="928.8,714.4 951.0,714.4" fill="none" stroke="#111" stroke-width="1.6099999999999999" stroke-linecap="butt" stroke-linejoin="round"/>
<rect x="947" y="715" width="4.2999999999999545" height="7.5" fill="none" stroke="#111" stroke-width="1.2"/>
<polyline points="927.5,723.0 951.0,723.0" fill="none" stroke="#111" stroke-width="1.6099999999999999" stroke-linecap="butt" stroke-linejoin="round"/>
<path d="M927.5,723 Q930,738 948.8,740.6" fill="none" stroke="#111" stroke-width="1.4949999999999999" stroke-linejoin="round"/>
<path d="M943.8,741 Q931,745 930,760" fill="none" stroke="#111" stroke-width="1.4949999999999999" stroke-linejoin="round" stroke-dasharray="5,2"/>
<polyline points="930.0,760.0 948.8,760.0" fill="none" stroke="#111" stroke-width="1.6099999999999999" stroke-linecap="butt" stroke-linejoin="round"/>
<path d="M800.0,277.0 L781.0,277.0 A19,19 0 0 0 800.0,296.0" fill="none" stroke="#111" stroke-width="1.4949999999999999"/>
<path d="M800.0,316.0 L781.0,316.0 A19,19 0 0 1 800.0,297.0" fill="none" stroke="#111" stroke-width="1.4949999999999999"/>
<text x="670.0" y="235.8" font-family="Liberation Sans" font-weight="normal" font-size="12.8" textLength="100.5" lengthAdjust="spacingAndGlyphs" fill="#111" stroke="#111" stroke-width="0.75" transform="rotate(-90 720.2 231.2)">CLASSROOM</text>
<text x="687.0" y="231.5" font-family="Liberation Sans" font-weight="normal" font-size="14.6" textLength="100.5" lengthAdjust="spacingAndGlyphs" fill="#111" stroke="#111" stroke-width="0.75" transform="rotate(-90 737.2 226.2)">REHEARSAL</text>
<path d="M858.0,246.0 L858.0,227.0 A19,19 0 0 0 839.0,246.0" fill="none" stroke="#111" stroke-width="1.4949999999999999"/>
<polyline points="899.0,125.0 899.0,246.0" fill="none" stroke="#111" stroke-width="1.38" stroke-linecap="butt" stroke-linejoin="round" stroke-dasharray="7,3"/>
<polyline points="902.0,125.0 902.0,244.0" fill="none" stroke="#111" stroke-width="1.38" stroke-linecap="butt" stroke-linejoin="round" stroke-dasharray="4,3"/>
<path d="M903.5,246.0 L903.5,227.0 A19,19 0 0 1 922.5,246.0" fill="none" stroke="#111" stroke-width="1.4949999999999999"/>
<path d="M903.5,181.0 L903.5,162.0 A19,19 0 0 1 922.5,181.0" fill="none" stroke="#111" stroke-width="1.4949999999999999"/>
<text x="772.2" y="188.9" font-family="Liberation Sans" font-weight="normal" font-size="13.7" textLength="95.3" lengthAdjust="spacingAndGlyphs" fill="#111" stroke="#111" stroke-width="0.75" transform="rotate(-90 819.8 183.9)">DARKROOM</text>
<text x="906.4" y="155.0" font-family="Liberation Sans" font-weight="normal" font-size="7.9" textLength="47.3" lengthAdjust="spacingAndGlyphs" fill="#111" stroke="#111" stroke-width="0.75" transform="rotate(-90 930.0 152.2)">BROAD-</text>
<text x="922.7" y="155.7" font-family="Liberation Sans" font-weight="normal" font-size="8.9" textLength="29.6" lengthAdjust="spacingAndGlyphs" fill="#111" stroke="#111" stroke-width="0.75" transform="rotate(-90 937.5 152.5)">CAST</text>
<text x="908.8" y="218.9" font-family="Liberation Sans" font-weight="normal" font-size="7.9" textLength="42.4" lengthAdjust="spacingAndGlyphs" fill="#111" stroke="#111" stroke-width="0.75" transform="rotate(-90 930.0 216.1)">BROAD-</text>
<text x="922.7" y="218.6" font-family="Liberation Sans" font-weight="normal" font-size="8.9" textLength="29.6" lengthAdjust="spacingAndGlyphs" fill="#111" stroke="#111" stroke-width="0.75" transform="rotate(-90 937.5 215.4)">CAST</text>
<path d="M961.0,229.0 L961.0,209.0 A20,20 0 0 1 981.0,229.0" fill="none" stroke="#111" stroke-width="1.4949999999999999"/>
<polyline points="961.0,229.0 961.0,210.0" fill="none" stroke="#111" stroke-width="1.4949999999999999" stroke-linecap="butt" stroke-linejoin="round"/>
<path d="M972.5,117.5 L972.5,93.0 A24.5,24.5 0 0 1 997.0,117.5" fill="none" stroke="#111" stroke-width="1.4949999999999999"/>
<polyline points="972.5,117.5 972.5,99.0" fill="none" stroke="#111" stroke-width="1.4949999999999999" stroke-linecap="butt" stroke-linejoin="round" stroke-dasharray="4,2"/>
<polyline points="956.5,152.0 1010.5,152.0" fill="none" stroke="#111" stroke-width="1.9549999999999998" stroke-linecap="butt" stroke-linejoin="round"/>
<polyline points="956.5,157.5 1010.5,157.5" fill="none" stroke="#111" stroke-width="1.9549999999999998" stroke-linecap="butt" stroke-linejoin="round"/>
<polyline points="956.5,163.0 1010.5,163.0" fill="none" stroke="#111" stroke-width="1.9549999999999998" stroke-linecap="butt" stroke-linejoin="round"/>
<polyline points="956.5,168.5 1010.5,168.5" fill="none" stroke="#111" stroke-width="1.9549999999999998" stroke-linecap="butt" stroke-linejoin="round"/>
<polyline points="956.5,174.0 1010.5,174.0" fill="none" stroke="#111" stroke-width="1.9549999999999998" stroke-linecap="butt" stroke-linejoin="round"/>
<polyline points="956.5,179.5 1010.5,179.5" fill="none" stroke="#111" stroke-width="1.9549999999999998" stroke-linecap="butt" stroke-linejoin="round"/>
<polyline points="956.5,185.0 1010.5,185.0" fill="none" stroke="#111" stroke-width="1.9549999999999998" stroke-linecap="butt" stroke-linejoin="round"/>
<polyline points="956.5,190.5 1010.5,190.5" fill="none" stroke="#111" stroke-width="1.9549999999999998" stroke-linecap="butt" stroke-linejoin="round"/>
<polyline points="956.5,196.0 1010.5,196.0" fill="none" stroke="#111" stroke-width="1.9549999999999998" stroke-linecap="butt" stroke-linejoin="round"/>
<polyline points="958.0,163.0 973.0,170.0 973.0,174.0" fill="none" stroke="#111" stroke-width="1.4949999999999999" stroke-linecap="butt" stroke-linejoin="round"/>
<polyline points="965.0,164.0 965.0,171.0" fill="none" stroke="#111" stroke-width="1.4949999999999999" stroke-linecap="butt" stroke-linejoin="round"/>
<text x="966.8" y="135.5" font-family="Liberation Sans" font-weight="normal" font-size="8.8" textLength="35.3" lengthAdjust="spacingAndGlyphs" fill="#111" stroke="#111" stroke-width="0.75">STAIR</text>
<text x="988.7" y="144.7" font-family="Liberation Sans" font-weight="normal" font-size="8.7" textLength="13.4" lengthAdjust="spacingAndGlyphs" fill="#111" stroke="#111" stroke-width="0.75">#2</text>
<polyline points="1034.0,125.0 1034.0,231.0" fill="none" stroke="#111" stroke-width="1.4949999999999999" stroke-linecap="butt" stroke-linejoin="round" stroke-dasharray="6,4"/>
<polyline points="1046.0,125.0 1046.0,189.0 1099.0,189.0 1099.0,125.0" fill="none" stroke="#111" stroke-width="1.4949999999999999" stroke-linecap="butt" stroke-linejoin="round" stroke-dasharray="7,5"/>
<polyline points="1076.5,124.4 1081.3,117.0" fill="none" stroke="#111" stroke-width="1.6099999999999999" stroke-linecap="butt" stroke-linejoin="round"/>
<polyline points="1088.5,108.6 1091.0,112.0" fill="none" stroke="#111" stroke-width="1.4949999999999999" stroke-linecap="butt" stroke-linejoin="round"/>
<polyline points="1106.0,119.0 1122.0,119.0" fill="none" stroke="#111" stroke-width="1.15" stroke-linecap="butt" stroke-linejoin="round" stroke-dasharray="4,2"/>
<polyline points="1207.0,149.0 1188.7,185.7 1159.0,181.3" fill="none" stroke="#111" stroke-width="1.4949999999999999" stroke-linecap="butt" stroke-linejoin="round" stroke-dasharray="7,5"/>
<polyline points="1179.0,204.0 1170.0,203.0" fill="none" stroke="#111" stroke-width="1.6099999999999999" stroke-linecap="butt" stroke-linejoin="round"/>
<polyline points="1171.0,222.0 1158.0,219.0" fill="none" stroke="#111" stroke-width="1.6099999999999999" stroke-linecap="butt" stroke-linejoin="round"/>
<polyline points="1153.0,236.5 1136.0,233.0" fill="none" stroke="#111" stroke-width="1.6099999999999999" stroke-linecap="butt" stroke-linejoin="round"/>
<text x="1027.0" y="248.0" font-family="Liberation Sans" font-weight="normal" font-size="11.1" textLength="93.0" lengthAdjust="spacingAndGlyphs" fill="#111" stroke="#111" stroke-width="0.75">BACKSTAGE</text>
<text x="976.5" y="283.5" font-family="Liberation Sans" font-weight="normal" font-size="11.8" textLength="122.0" lengthAdjust="spacingAndGlyphs" fill="#111" stroke="#111" stroke-width="0.75">ROLL-UP SCREEN</text>
<text x="1281.5" y="211.8" font-family="Liberation Sans" font-weight="normal" font-size="12.9" textLength="62.5" lengthAdjust="spacingAndGlyphs" fill="#111" stroke="#111" stroke-width="0.75">STAGE</text>
<polyline points="1281.5,214.8 1344.0,214.8" fill="none" stroke="#111" stroke-width="1.8399999999999999" stroke-linecap="butt" stroke-linejoin="round"/>
<path d="M834.5,321.5 L853.5,321.5 A19,19 0 0 1 834.5,340.5" fill="none" stroke="#111" stroke-width="1.4949999999999999"/>
<path d="M834.0,464.5 L853.0,464.5 A19,19 0 0 1 834.0,483.5" fill="none" stroke="#111" stroke-width="1.4949999999999999"/>
<text x="842.8" y="366.5" font-family="Liberation Sans" font-weight="normal" font-size="12.5" textLength="97.0" lengthAdjust="spacingAndGlyphs" fill="#111" stroke="#111" stroke-width="0.75">CLASSROOM</text>
<text x="843.6" y="526.7" font-family="Liberation Sans" font-weight="normal" font-size="11.7" textLength="93.4" lengthAdjust="spacingAndGlyphs" fill="#111" stroke="#111" stroke-width="0.75">CLASSROOM</text>
<text x="773.2" y="513.5" font-family="Liberation Sans" font-weight="normal" font-size="13.2" textLength="83.6" lengthAdjust="spacingAndGlyphs" fill="#111" stroke="#111" stroke-width="0.75" transform="rotate(-90 815.0 508.8)">CORRIDOR</text>
<polyline points="833.0,565.0 833.0,669.0" fill="none" stroke="#111" stroke-width="1.4949999999999999" stroke-linecap="butt" stroke-linejoin="round" stroke-dasharray="6,3"/>
<polyline points="837.0,566.0 837.0,668.0" fill="none" stroke="#111" stroke-width="1.38" stroke-linecap="butt" stroke-linejoin="round" stroke-dasharray="3,3"/>
<path d="M841.0,669.0 L841.0,648.0 A21,21 0 0 1 862.0,669.0" fill="none" stroke="#111" stroke-width="1.4949999999999999"/>
<polyline points="841.0,669.0 841.0,652.0" fill="none" stroke="#111" stroke-width="1.4949999999999999" stroke-linecap="butt" stroke-linejoin="round"/>
<path d="M933.5,669.0 L933.5,649.5 A19.5,19.5 0 0 0 914.0,669.0" fill="none" stroke="#111" stroke-width="1.4949999999999999"/>
<polyline points="933.5,669.0 933.5,652.0" fill="none" stroke="#111" stroke-width="1.4949999999999999" stroke-linecap="butt" stroke-linejoin="round"/>
<polyline points="854.7,597.0 884.7,597.0" fill="none" stroke="#111" stroke-width="1.4949999999999999" stroke-linecap="butt" stroke-linejoin="round"/>
<polyline points="892.5,597.0 923.2,597.0" fill="none" stroke="#111" stroke-width="1.4949999999999999" stroke-linecap="butt" stroke-linejoin="round"/>
<polyline points="856.0,615.4 884.7,615.4" fill="none" stroke="#111" stroke-width="1.4949999999999999" stroke-linecap="butt" stroke-linejoin="round"/>
<polyline points="892.5,615.4 906.0,615.4" fill="none" stroke="#111" stroke-width="1.4949999999999999" stroke-linecap="butt" stroke-linejoin="round"/>
<polyline points="856.0,633.0 884.7,633.0" fill="none" stroke="#111" stroke-width="1.4949999999999999" stroke-linecap="butt" stroke-linejoin="round"/>
<polyline points="856.0,594.0 856.0,600.0" fill="none" stroke="#111" stroke-width="1.4949999999999999" stroke-linecap="butt" stroke-linejoin="round"/>
<polyline points="857.0,612.0 857.0,619.0" fill="none" stroke="#111" stroke-width="1.4949999999999999" stroke-linecap="butt" stroke-linejoin="round"/>
<polyline points="856.0,630.0 856.0,636.0" fill="none" stroke="#111" stroke-width="1.4949999999999999" stroke-linecap="butt" stroke-linejoin="round"/>
<path d="M885,570.3 L881,570.3 Q879,568.8 877,569.3 Q873.5,570.3 874,573.3 Q873.5,576.3 877,577.3 Q879,577.8 881,576.3 L885,576.3" fill="none" stroke="#111" stroke-width="1.4949999999999999" stroke-linejoin="round"/>
<path d="M885,604 L881,604 Q879,602.5 877,603 Q873.5,604 874,607 Q873.5,610 877,611 Q879,611.5 881,610 L885,610" fill="none" stroke="#111" stroke-width="1.4949999999999999" stroke-linejoin="round"/>
<path d="M885,622.2 L881,622.2 Q879,620.7 877,621.2 Q873.5,622.2 874,625.2 Q873.5,628.2 877,629.2 Q879,629.7 881,628.2 L885,628.2" fill="none" stroke="#111" stroke-width="1.4949999999999999" stroke-linejoin="round"/>
<path d="M892.5,570.3 L897,570.3 Q899,568.5 901,569 Q905,570 904.5,573.3 Q905,576.5 901,577.6 Q899,578 897,576.3 L892.5,576.3" fill="none" stroke="#111" stroke-width="1.4949999999999999" stroke-linejoin="round"/>
<path d="M892.5,603 Q898,603 898,607 Q898,611 892.5,611" fill="none" stroke="#111" stroke-width="1.4949999999999999" stroke-linejoin="round"/>
<path d="M892.5,621.2 Q898,621.2 898,625.2 Q898,629.2 892.5,629.2" fill="none" stroke="#111" stroke-width="1.4949999999999999" stroke-linejoin="round"/>
<rect x="873" y="634.3" width="11.700000000000045" height="33.200000000000045" fill="none" stroke="#111" stroke-width="1.3"/>
<rect x="892.5" y="634.3" width="11.799999999999955" height="33.200000000000045" fill="none" stroke="#111" stroke-width="1.3"/>
<path d="M878.9,641 m-3.2,0 a3.2,3.2 0 1,0 6.4,0 a3.2,3.2 0 1,0 -6.4,0" fill="none" stroke="#111" stroke-width="1.38" stroke-linejoin="round"/>
<path d="M898.4,641 m-3.2,0 a3.2,3.2 0 1,0 6.4,0 a3.2,3.2 0 1,0 -6.4,0" fill="none" stroke="#111" stroke-width="1.38" stroke-linejoin="round"/>
<path d="M878.9,651 m-3.2,0 a3.2,3.2 0 1,0 6.4,0 a3.2,3.2 0 1,0 -6.4,0" fill="none" stroke="#111" stroke-width="1.38" stroke-linejoin="round"/>
<path d="M898.4,651 m-3.2,0 a3.2,3.2 0 1,0 6.4,0 a3.2,3.2 0 1,0 -6.4,0" fill="none" stroke="#111" stroke-width="1.38" stroke-linejoin="round"/>
<path d="M878.9,661 m-3.2,0 a3.2,3.2 0 1,0 6.4,0 a3.2,3.2 0 1,0 -6.4,0" fill="none" stroke="#111" stroke-width="1.38" stroke-linejoin="round"/>
<path d="M898.4,661 m-3.2,0 a3.2,3.2 0 1,0 6.4,0 a3.2,3.2 0 1,0 -6.4,0" fill="none" stroke="#111" stroke-width="1.38" stroke-linejoin="round"/>
<text x="812.9" y="613.3" font-family="Liberation Sans" font-weight="normal" font-size="11.0" textLength="66.7" lengthAdjust="spacingAndGlyphs" fill="#111" stroke="#111" stroke-width="0.75" transform="rotate(-90 846.2 609.4)">WOMEN'S</text>
<text x="910.5" y="617.7" font-family="Liberation Sans" font-weight="normal" font-size="10.0" textLength="48.2" lengthAdjust="spacingAndGlyphs" fill="#111" stroke="#111" stroke-width="0.75" transform="rotate(-90 934.6 614.1)">MEN'S</text>
<text x="835.6" y="727.8" font-family="Liberation Sans" font-weight="normal" font-size="11.2" textLength="59.2" lengthAdjust="spacingAndGlyphs" fill="#111" stroke="#111" stroke-width="0.75">LOBBY</text>
<polyline points="731.5,426.0 726.0,430.5 713.6,419.8" fill="none" stroke="#111" stroke-width="1.7249999999999999" stroke-linecap="butt" stroke-linejoin="round"/>
<polyline points="731.5,426.0 744.6,437.0" fill="none" stroke="#111" stroke-width="2.9899999999999998" stroke-linecap="butt" stroke-linejoin="round"/>
<polyline points="731.5,426.0 744.6,437.0" fill="none" stroke="#fff" stroke-width="1.035" stroke-linecap="butt" stroke-linejoin="round"/>
<polyline points="744.6,437.0 746.2,418.5" fill="none" stroke="#111" stroke-width="1.7249999999999999" stroke-linecap="butt" stroke-linejoin="round"/>
<polyline points="710.4,443.4 708.0,449.0 711.0,456.0" fill="none" stroke="#111" stroke-width="1.7249999999999999" stroke-linecap="butt" stroke-linejoin="round"/>
<polyline points="711.0,456.0 700.0,470.0" fill="none" stroke="#111" stroke-width="1.7249999999999999" stroke-linecap="butt" stroke-linejoin="round"/>
<polyline points="725.9,470.3 731.5,476.0" fill="none" stroke="#111" stroke-width="1.7249999999999999" stroke-linecap="butt" stroke-linejoin="round"/>
<path d="M713.6,419.8 Q699,430 710.4,443.4" fill="none" stroke="#111" stroke-width="1.6099999999999999" stroke-linejoin="round"/>
<path d="M746.2,418.5 Q765,418 766.2,434" fill="none" stroke="#111" stroke-width="1.6099999999999999" stroke-linejoin="round"/>
<path d="M700,470 Q708,478 722,474" fill="none" stroke="#111" stroke-width="1.6099999999999999" stroke-linejoin="round"/>
<polyline points="729.5,633.5 724.0,638.0 711.6,627.3" fill="none" stroke="#111" stroke-width="1.7249999999999999" stroke-linecap="butt" stroke-linejoin="round"/>
<polyline points="729.5,633.5 742.6,644.5" fill="none" stroke="#111" stroke-width="2.9899999999999998" stroke-linecap="butt" stroke-linejoin="round"/>
<polyline points="729.5,633.5 742.6,644.5" fill="none" stroke="#fff" stroke-width="1.035" stroke-linecap="butt" stroke-linejoin="round"/>
<polyline points="742.6,644.5 744.2,626.0" fill="none" stroke="#111" stroke-width="1.7249999999999999" stroke-linecap="butt" stroke-linejoin="round"/>
<polyline points="708.4,650.9 706.0,656.5 709.0,663.5" fill="none" stroke="#111" stroke-width="1.7249999999999999" stroke-linecap="butt" stroke-linejoin="round"/>
<polyline points="709.0,663.5 698.0,677.5" fill="none" stroke="#111" stroke-width="1.7249999999999999" stroke-linecap="butt" stroke-linejoin="round"/>
<polyline points="723.9,677.8 729.5,683.5" fill="none" stroke="#111" stroke-width="1.7249999999999999" stroke-linecap="butt" stroke-linejoin="round"/>
<path d="M711.6,627.3 Q697,637.5 708.4,650.9" fill="none" stroke="#111" stroke-width="1.6099999999999999" stroke-linejoin="round"/>
<path d="M744.2,626.0 Q763,625.5 764.2,641.5" fill="none" stroke="#111" stroke-width="1.6099999999999999" stroke-linejoin="round"/>
<path d="M698,677.5 Q706,685.5 720,681.5" fill="none" stroke="#111" stroke-width="1.6099999999999999" stroke-linejoin="round"/>
<text x="723.4" y="455.5" font-family="Liberation Sans" font-weight="normal" font-size="8.3" textLength="38.6" lengthAdjust="spacingAndGlyphs" fill="#111" stroke="#111" stroke-width="0.75">HALL</text>
<text x="716.4" y="661.3" font-family="Liberation Sans" font-weight="normal" font-size="10.8" textLength="40.7" lengthAdjust="spacingAndGlyphs" fill="#111" stroke="#111" stroke-width="0.75">HALL</text>
<text x="653.7" y="401.4" font-family="Liberation Sans" font-weight="normal" font-size="12.4" textLength="66.6" lengthAdjust="spacingAndGlyphs" fill="#111" stroke="#111" stroke-width="0.75" transform="rotate(-90 687.0 397.0)">FACULTY</text>
<text x="746.1" y="395.8" font-family="Liberation Sans" font-weight="normal" font-size="12.8" textLength="68.9" lengthAdjust="spacingAndGlyphs" fill="#111" stroke="#111" stroke-width="0.75" transform="rotate(-90 780.6 391.1)">FACULTY</text>
<text x="651.0" y="505.1" font-family="Liberation Sans" font-weight="normal" font-size="11.4" textLength="71.2" lengthAdjust="spacingAndGlyphs" fill="#111" stroke="#111" stroke-width="0.75" transform="rotate(-90 686.6 501.0)">FACULTY</text>
<text x="745.5" y="514.1" font-family="Liberation Sans" font-weight="normal" font-size="13.9" textLength="68.9" lengthAdjust="spacingAndGlyphs" fill="#111" stroke="#111" stroke-width="0.75" transform="rotate(-90 780.0 509.1)">FACULTY</text>
<text x="652.2" y="612.5" font-family="Liberation Sans" font-weight="normal" font-size="12.5" textLength="65.9" lengthAdjust="spacingAndGlyphs" fill="#111" stroke="#111" stroke-width="0.75" transform="rotate(-90 685.1 608.0)">FACULTY</text>
<text x="746.8" y="604.2" font-family="Liberation Sans" font-weight="normal" font-size="14.3" textLength="64.6" lengthAdjust="spacingAndGlyphs" fill="#111" stroke="#111" stroke-width="0.75" transform="rotate(-90 779.1 599.1)">FACULTY</text>
<text x="646.8" y="716.0" font-family="Liberation Sans" font-weight="normal" font-size="12.5" textLength="76.6" lengthAdjust="spacingAndGlyphs" fill="#111" stroke="#111" stroke-width="0.75" transform="rotate(-90 685.1 711.5)">FACULTY</text>
<text x="746.1" y="720.9" font-family="Liberation Sans" font-weight="normal" font-size="12.9" textLength="67.0" lengthAdjust="spacingAndGlyphs" fill="#111" stroke="#111" stroke-width="0.75" transform="rotate(-90 779.6 716.3)">FACULTY</text>
<polyline points="955.0,310.2 1095.0,310.2" fill="none" stroke="#111" stroke-width="1.4949999999999999" stroke-linecap="butt" stroke-linejoin="round" stroke-dasharray="12,3,2,3"/>
<polyline points="967.0,296.0 965.0,306.0" fill="none" stroke="#111" stroke-width="1.38" stroke-linecap="butt" stroke-linejoin="round"/>
<path d="M1015.5,330.0 L1030.5,330.0 A15,15 0 0 1 1025.1,341.5" fill="none" stroke="#111" stroke-width="1.4949999999999999"/>
<path d="M1015.5,370.0 L1030.5,370.0 A15,15 0 0 0 1025.1,358.5" fill="none" stroke="#111" stroke-width="1.4949999999999999"/>
<polyline points="1015.5,349.0 1030.0,349.0" fill="none" stroke="#111" stroke-width="1.4949999999999999" stroke-linecap="butt" stroke-linejoin="round"/>
<rect x="1013" y="346" width="5" height="6" fill="none" stroke="#111" stroke-width="1.2"/>
<text x="1019.3" y="354.1" font-family="Liberation Sans" font-weight="normal" font-size="13.1" textLength="56.8" lengthAdjust="spacingAndGlyphs" fill="#111" stroke="#111" stroke-width="0.75" transform="rotate(-90 1047.7 349.4)">MAKE-UP</text>
<path d="M961.0,389.0 L961.0,408.0 A19,19 0 0 0 980.0,389.0" fill="none" stroke="#111" stroke-width="1.4949999999999999"/>
<polyline points="961.0,389.0 961.0,405.0" fill="none" stroke="#111" stroke-width="1.4949999999999999" stroke-linecap="butt" stroke-linejoin="round"/>
<path d="M993.5,389.0 L993.5,408.0 A19,19 0 0 0 1012.5,389.0" fill="none" stroke="#111" stroke-width="1.4949999999999999"/>
<polyline points="993.5,389.0 993.5,404.0" fill="none" stroke="#111" stroke-width="1.4949999999999999" stroke-linecap="butt" stroke-linejoin="round"/>
<text x="942.5" y="460.0" font-family="Liberation Sans" font-weight="normal" font-size="9.7" textLength="43.0" lengthAdjust="spacingAndGlyphs" fill="#111" stroke="#111" stroke-width="0.75" transform="rotate(-90 964.0 456.5)">PROP</text>
<text x="939.5" y="461.7" font-family="Liberation Sans" font-weight="normal" font-size="11.0" textLength="71.5" lengthAdjust="spacingAndGlyphs" fill="#111" stroke="#111" stroke-width="0.75" transform="rotate(-90 975.2 457.8)">STORAGE</text>
<text x="965.8" y="443.9" font-family="Liberation Sans" font-weight="normal" font-size="11.0" textLength="61.4" lengthAdjust="spacingAndGlyphs" fill="#111" stroke="#111" stroke-width="0.75" transform="rotate(-90 996.5 440.0)">COSTUME</text>
<text x="973.4" y="443.6" font-family="Liberation Sans" font-weight="normal" font-size="12.5" textLength="66.3" lengthAdjust="spacingAndGlyphs" fill="#111" stroke="#111" stroke-width="0.75" transform="rotate(-90 1006.5 439.1)">STORAGE</text>
<text x="927.8" y="566.8" font-family="Liberation Sans" font-weight="normal" font-size="10.7" textLength="64.6" lengthAdjust="spacingAndGlyphs" fill="#111" stroke="#111" stroke-width="0.75" transform="rotate(-90 960.1 562.9)">LIGHTING</text>
<text x="944.0" y="560.0" font-family="Liberation Sans" font-weight="normal" font-size="11.7" textLength="50.4" lengthAdjust="spacingAndGlyphs" fill="#111" stroke="#111" stroke-width="0.75" transform="rotate(-90 969.2 555.8)">CONTROL</text>
<polyline points="1128.4,253.5 1094.5,311.0" fill="none" stroke="#111" stroke-width="1.6099999999999999" stroke-linecap="butt" stroke-linejoin="round" stroke-dasharray="9,3"/>
<polyline points="1131.5,256.5 1097.5,314.0" fill="none" stroke="#111" stroke-width="1.6099999999999999" stroke-linecap="butt" stroke-linejoin="round" stroke-dasharray="9,3"/>
<polyline points="1093.5,313.0 976.5,516.0" fill="none" stroke="#111" stroke-width="2.07" stroke-linecap="butt" stroke-linejoin="round"/>
<polyline points="1097.5,314.0 988.0,508.0" fill="none" stroke="#111" stroke-width="1.38" stroke-linecap="butt" stroke-linejoin="round" stroke-dasharray="12,5"/>
<polyline points="971.0,517.0 994.0,542.5" fill="none" stroke="#111" stroke-width="1.6099999999999999" stroke-linecap="butt" stroke-linejoin="round"/>
<polyline points="969.0,514.0 977.0,519.0 976.0,522.0" fill="none" stroke="#111" stroke-width="2.3" stroke-linecap="butt" stroke-linejoin="round"/>
<polyline points="993.0,540.0 999.0,545.0" fill="none" stroke="#111" stroke-width="2.3" stroke-linecap="butt" stroke-linejoin="round"/>
<polyline points="1047.0,386.5 1053.0,391.0" fill="none" stroke="#111" stroke-width="1.15" stroke-linecap="butt" stroke-linejoin="round"/>
<polyline points="1128.0,254.0 1200.0,269.0 1445.0,319.4" fill="none" stroke="#111" stroke-width="1.6099999999999999" stroke-linecap="butt" stroke-linejoin="round" stroke-dasharray="22,5,3,5"/>
<polyline points="1130.0,258.0 1200.0,273.0" fill="none" stroke="#111" stroke-width="1.265" stroke-linecap="butt" stroke-linejoin="round" stroke-dasharray="10,5"/>
<polyline points="1151.0,275.5 1266.9,327.6" fill="none" stroke="#111" stroke-width="1.6099999999999999" stroke-linecap="butt" stroke-linejoin="round" stroke-dasharray="26,5,4,5"/>
<polyline points="1266.9,327.6 1173.8,735.0 979.0,644.2 1036.0,525.8 1012.4,513.0 1151.0,275.5" fill="none" stroke="#111" stroke-width="1.7249999999999999" stroke-linecap="butt" stroke-linejoin="round"/>
<polyline points="1292.7,331.6 1201.2,738.0 1418.0,740.6 1421.8,331.6" fill="none" stroke="#111" stroke-width="1.7249999999999999" stroke-linecap="butt" stroke-linejoin="round"/>
<polyline points="1292.7,331.6 1421.8,331.6" fill="none" stroke="#111" stroke-width="1.7249999999999999" stroke-linecap="butt" stroke-linejoin="round" stroke-dasharray="30,6,4,6"/>
<rect x="1188" y="487" width="112" height="25" fill="#fff" stroke="#111" stroke-width="0"/>
<text x="1193.5" y="505.5" font-family="Liberation Sans" font-weight="normal" font-size="16.7" textLength="102.0" lengthAdjust="spacingAndGlyphs" fill="#111" stroke="#111" stroke-width="0.75">AUDITORIUM</text>
<polyline points="1193.0,508.5 1296.0,508.5" fill="none" stroke="#111" stroke-width="1.8399999999999999" stroke-linecap="butt" stroke-linejoin="round"/>
<rect x="1337" y="694.5" width="2" height="2.0" fill="#333" stroke="#111" stroke-width="0"/>
<text x="1179.5" y="843.2" font-family="Liberation Sans" font-weight="bold" font-size="28.1" textLength="137.0" lengthAdjust="spacingAndGlyphs" fill="#111">Main Floor</text>
</svg>
</body></html>
